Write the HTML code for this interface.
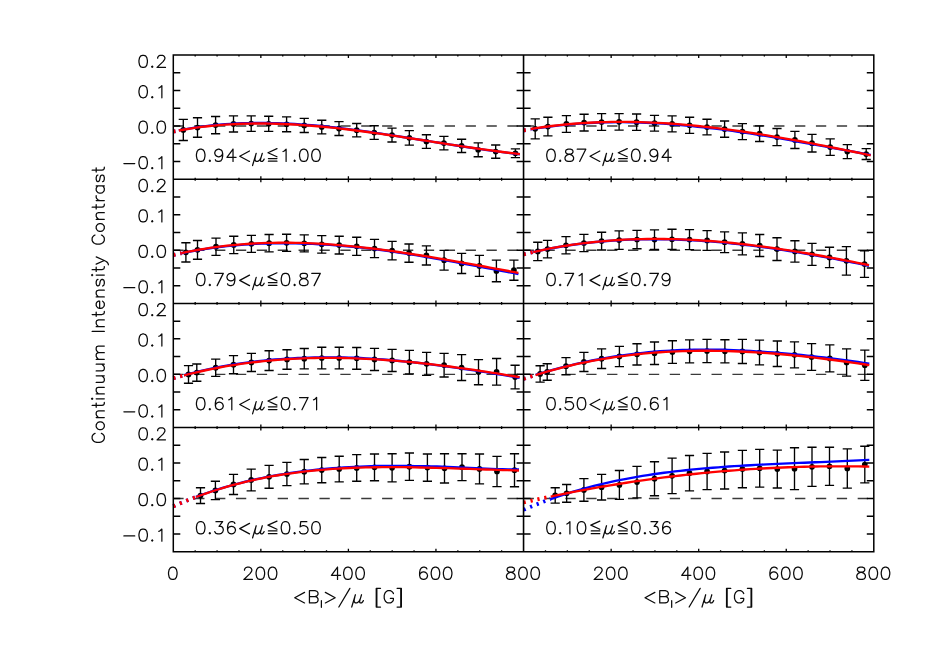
<!DOCTYPE html>
<html><head><meta charset="utf-8"><title>Continuum Intensity Contrast</title>
<style>html,body{margin:0;padding:0;background:#fff;font-family:"Liberation Sans",sans-serif;}svg{display:block}</style>
</head><body>
<svg width="926" height="662" viewBox="0 0 926 662">
<rect width="926" height="662" fill="#fff"/>
<g><path d="M173.30 126.04 H523.50" stroke="#3a3a3a" stroke-width="1.4" stroke-dasharray="10.3 10.58" fill="none"/><path d="M183.30 119.40 V140.50 M178.70 119.40 H187.90 M178.70 140.50 H187.90 M197.50 117.75 V137.20 M192.90 117.75 H202.10 M192.90 137.20 H202.10 M215.60 116.50 V133.70 M211.00 116.50 H220.20 M211.00 133.70 H220.20 M233.50 115.90 V132.00 M228.90 115.90 H238.10 M228.90 132.00 H238.10 M251.20 115.80 V131.40 M246.60 115.80 H255.80 M246.60 131.40 H255.80 M268.70 116.20 V131.40 M264.10 116.20 H273.30 M264.10 131.40 H273.30 M286.60 116.80 V131.70 M282.00 116.80 H291.20 M282.00 131.70 H291.20 M304.25 118.35 V132.50 M299.65 118.35 H308.85 M299.65 132.50 H308.85 M321.75 120.20 V133.80 M317.15 120.20 H326.35 M317.15 133.80 H326.35 M339.00 121.60 V135.50 M334.40 121.60 H343.60 M334.40 135.50 H343.60 M356.70 123.50 V136.80 M352.10 123.50 H361.30 M352.10 136.80 H361.30 M374.20 125.70 V139.30 M369.60 125.70 H378.80 M369.60 139.30 H378.80 M392.00 128.10 V142.00 M387.40 128.10 H396.60 M387.40 142.00 H396.60 M409.30 130.60 V145.10 M404.70 130.60 H413.90 M404.70 145.10 H413.90 M426.40 134.70 V148.30 M421.80 134.70 H431.00 M421.80 148.30 H431.00 M443.90 136.30 V149.80 M439.30 136.30 H448.50 M439.30 149.80 H448.50 M461.60 139.20 V152.50 M457.00 139.20 H466.20 M457.00 152.50 H466.20 M478.20 142.80 V156.70 M473.60 142.80 H482.80 M473.60 156.70 H482.80 M495.70 145.00 V158.20 M491.10 145.00 H500.30 M491.10 158.20 H500.30 M515.40 148.90 V157.60 M510.80 148.90 H520.00 M510.80 157.60 H520.00" stroke="#000" stroke-width="1.35" fill="none"/><circle cx="183.30" cy="129.95" r="2.85" fill="#000"/><circle cx="197.50" cy="127.48" r="2.85" fill="#000"/><circle cx="215.60" cy="125.10" r="2.85" fill="#000"/><circle cx="233.50" cy="123.95" r="2.85" fill="#000"/><circle cx="251.20" cy="123.60" r="2.85" fill="#000"/><circle cx="268.70" cy="123.80" r="2.85" fill="#000"/><circle cx="286.60" cy="124.25" r="2.85" fill="#000"/><circle cx="304.25" cy="125.42" r="2.85" fill="#000"/><circle cx="321.75" cy="127.00" r="2.85" fill="#000"/><circle cx="339.00" cy="128.55" r="2.85" fill="#000"/><circle cx="356.70" cy="130.15" r="2.85" fill="#000"/><circle cx="374.20" cy="132.50" r="2.85" fill="#000"/><circle cx="392.00" cy="135.05" r="2.85" fill="#000"/><circle cx="409.30" cy="137.85" r="2.85" fill="#000"/><circle cx="426.40" cy="141.50" r="2.85" fill="#000"/><circle cx="443.90" cy="143.05" r="2.85" fill="#000"/><circle cx="461.60" cy="145.85" r="2.85" fill="#000"/><circle cx="478.20" cy="149.75" r="2.85" fill="#000"/><circle cx="495.70" cy="151.60" r="2.85" fill="#000"/><circle cx="515.40" cy="153.25" r="2.85" fill="#000"/><path d="M173.30 131.59 L173.80 131.48 L174.30 131.38 L174.80 131.27 L175.30 131.17 L175.80 131.07 L176.30 130.96 L176.80 130.86 L177.30 130.76 L177.80 130.66 L178.30 130.56 L178.80 130.46" stroke="#0000ff" stroke-width="3.8" stroke-dasharray="2.2 4.87" fill="none"/><path d="M178.80 130.46 L184.58 129.36 L190.36 128.35 L196.14 127.42 L201.93 126.59 L207.71 125.83 L213.49 125.16 L219.27 124.63 L225.05 124.19 L230.83 123.81 L236.61 123.51 L242.39 123.28 L248.18 123.12 L253.96 123.03 L259.74 123.00 L265.52 123.03 L271.30 123.12 L277.08 123.27 L282.86 123.47 L288.65 123.73 L294.43 124.04 L300.21 124.39 L305.99 124.80 L311.77 125.25 L317.55 125.74 L323.33 126.27 L329.12 126.87 L334.90 127.51 L340.68 128.18 L346.46 128.89 L352.24 129.62 L358.02 130.38 L363.80 131.17 L369.58 131.98 L375.37 132.82 L381.15 133.67 L386.93 134.54 L392.71 135.43 L398.49 136.33 L404.27 137.24 L410.05 138.16 L415.84 139.09 L421.62 140.02 L427.40 140.94 L433.18 141.86 L438.96 142.77 L444.74 143.68 L450.52 144.59 L456.31 145.49 L462.09 146.38 L467.87 147.26 L473.65 148.12 L479.43 148.96 L485.21 149.79 L490.99 150.60 L496.77 151.38 L502.56 152.14 L508.34 152.88 L514.12 153.58 L519.90 154.25" stroke="#0000ff" stroke-width="2.35" fill="none"/><path d="M173.30 131.59 L173.80 131.49 L174.30 131.39 L174.80 131.29 L175.30 131.19 L175.80 131.10 L176.30 131.00 L176.80 130.90 L177.30 130.81 L177.80 130.71 L178.30 130.62 L178.80 130.53" stroke="#ff0000" stroke-width="3.8" stroke-dasharray="2.2 4.87" fill="none"/><path d="M178.80 130.53 L184.58 129.50 L190.36 128.56 L196.14 127.71 L201.93 126.94 L207.71 126.26 L213.49 125.66 L219.27 125.13 L225.05 124.69 L230.83 124.31 L236.61 124.01 L242.39 123.78 L248.18 123.62 L253.96 123.53 L259.74 123.50 L265.52 123.53 L271.30 123.62 L277.08 123.77 L282.86 123.97 L288.65 124.23 L294.43 124.54 L300.21 124.89 L305.99 125.30 L311.77 125.75 L317.55 126.24 L323.33 126.77 L329.12 127.35 L334.90 127.95 L340.68 128.60 L346.46 129.27 L352.24 129.98 L358.02 130.71 L363.80 131.47 L369.58 132.25 L375.37 133.06 L381.15 133.88 L386.93 134.72 L392.71 135.58 L398.49 136.45 L404.27 137.33 L410.05 138.22 L415.84 139.12 L421.62 140.03 L427.40 140.93 L433.18 141.84 L438.96 142.74 L444.74 143.64 L450.52 144.54 L456.31 145.42 L462.09 146.30 L467.87 147.17 L473.65 148.02 L479.43 148.85 L485.21 149.67 L490.99 150.46 L496.77 151.24 L502.56 151.98 L508.34 152.71 L514.12 153.40 L519.90 154.06" stroke="#ff0000" stroke-width="2.35" fill="none"/></g>
<g><path d="M523.60 126.04 H873.80" stroke="#3a3a3a" stroke-width="1.4" stroke-dasharray="10.3 10.58" fill="none"/><path d="M535.20 118.80 V138.90 M530.60 118.80 H539.80 M530.60 138.90 H539.80 M547.90 117.20 V135.90 M543.30 117.20 H552.50 M543.30 135.90 H552.50 M566.40 115.55 V132.40 M561.80 115.55 H571.00 M561.80 132.40 H571.00 M584.10 114.25 V131.00 M579.50 114.25 H588.70 M579.50 131.00 H588.70 M601.60 113.60 V130.40 M597.00 113.60 H606.20 M597.00 130.40 H606.20 M619.10 113.60 V130.10 M614.50 113.60 H623.70 M614.50 130.10 H623.70 M636.60 114.00 V130.40 M632.00 114.00 H641.20 M632.00 130.40 H641.20 M654.50 115.30 V131.10 M649.90 115.30 H659.10 M649.90 131.10 H659.10 M672.10 115.80 V131.80 M667.50 115.80 H676.70 M667.50 131.80 H676.70 M689.60 117.20 V133.30 M685.00 117.20 H694.20 M685.00 133.30 H694.20 M707.00 119.20 V134.90 M702.40 119.20 H711.60 M702.40 134.90 H711.60 M724.60 121.00 V137.20 M720.00 121.00 H729.20 M720.00 137.20 H729.20 M742.40 123.60 V139.60 M737.80 123.60 H747.00 M737.80 139.60 H747.00 M759.60 125.80 V141.50 M755.00 125.80 H764.20 M755.00 141.50 H764.20 M777.00 128.50 V145.55 M772.40 128.50 H781.60 M772.40 145.55 H781.60 M794.90 131.40 V148.50 M790.30 131.40 H799.50 M790.30 148.50 H799.50 M812.00 134.40 V152.00 M807.40 134.40 H816.60 M807.40 152.00 H816.60 M830.20 138.80 V155.30 M825.60 138.80 H834.80 M825.60 155.30 H834.80 M847.30 144.60 V158.60 M842.70 144.60 H851.90 M842.70 158.60 H851.90 M866.20 148.60 V159.50 M861.60 148.60 H870.80 M861.60 159.50 H870.80" stroke="#000" stroke-width="1.35" fill="none"/><circle cx="535.20" cy="128.85" r="2.85" fill="#000"/><circle cx="547.90" cy="126.55" r="2.85" fill="#000"/><circle cx="566.40" cy="123.97" r="2.85" fill="#000"/><circle cx="584.10" cy="122.62" r="2.85" fill="#000"/><circle cx="601.60" cy="122.00" r="2.85" fill="#000"/><circle cx="619.10" cy="121.85" r="2.85" fill="#000"/><circle cx="636.60" cy="122.20" r="2.85" fill="#000"/><circle cx="654.50" cy="123.20" r="2.85" fill="#000"/><circle cx="672.10" cy="123.80" r="2.85" fill="#000"/><circle cx="689.60" cy="125.25" r="2.85" fill="#000"/><circle cx="707.00" cy="127.05" r="2.85" fill="#000"/><circle cx="724.60" cy="129.10" r="2.85" fill="#000"/><circle cx="742.40" cy="131.60" r="2.85" fill="#000"/><circle cx="759.60" cy="133.65" r="2.85" fill="#000"/><circle cx="777.00" cy="137.03" r="2.85" fill="#000"/><circle cx="794.90" cy="139.95" r="2.85" fill="#000"/><circle cx="812.00" cy="143.20" r="2.85" fill="#000"/><circle cx="830.20" cy="147.05" r="2.85" fill="#000"/><circle cx="847.30" cy="151.60" r="2.85" fill="#000"/><circle cx="866.20" cy="154.05" r="2.85" fill="#000"/><path d="M523.60 130.56 L524.25 130.44 L524.89 130.33 L525.54 130.21 L526.18 130.10 L526.83 129.99 L527.47 129.87 L528.12 129.76 L528.76 129.65 L529.41 129.55 L530.05 129.44 L530.70 129.33" stroke="#0000ff" stroke-width="3.8" stroke-dasharray="2.2 4.87" fill="none"/><path d="M530.70 129.33 L536.46 128.41 L542.23 127.56 L547.99 126.77 L553.75 126.05 L559.51 125.40 L565.28 124.81 L571.04 124.28 L576.80 123.82 L582.56 123.41 L588.33 123.06 L594.09 122.77 L599.85 122.54 L605.62 122.37 L611.38 122.25 L617.14 122.18 L622.90 122.17 L628.67 122.24 L634.43 122.36 L640.19 122.53 L645.95 122.75 L651.72 123.02 L657.48 123.34 L663.24 123.70 L669.01 124.10 L674.77 124.54 L680.53 125.03 L686.29 125.56 L692.06 126.13 L697.82 126.73 L703.58 127.37 L709.34 128.02 L715.11 128.69 L720.87 129.41 L726.63 130.15 L732.39 130.93 L738.16 131.73 L743.92 132.57 L749.68 133.43 L755.45 134.32 L761.21 135.24 L766.97 136.18 L772.73 137.15 L778.50 138.14 L784.26 139.15 L790.02 140.18 L795.78 141.23 L801.55 142.30 L807.31 143.33 L813.07 144.35 L818.84 145.38 L824.60 146.42 L830.36 147.48 L836.12 148.55 L841.89 149.63 L847.65 150.67 L853.41 151.70 L859.17 152.74 L864.94 153.79 L870.70 154.84" stroke="#0000ff" stroke-width="2.35" fill="none"/><path d="M523.60 130.26 L524.25 130.14 L524.89 130.03 L525.54 129.91 L526.18 129.80 L526.83 129.69 L527.47 129.57 L528.12 129.46 L528.76 129.35 L529.41 129.25 L530.05 129.14 L530.70 129.03" stroke="#ff0000" stroke-width="3.8" stroke-dasharray="2.2 4.87" fill="none"/><path d="M530.70 129.03 L536.46 128.11 L542.23 127.26 L547.99 126.47 L553.75 125.75 L559.51 125.10 L565.28 124.51 L571.04 123.98 L576.80 123.52 L582.56 123.11 L588.33 122.76 L594.09 122.47 L599.85 122.24 L605.62 122.07 L611.38 121.95 L617.14 121.88 L622.90 121.87 L628.67 121.90 L634.43 121.99 L640.19 122.13 L645.95 122.31 L651.72 122.55 L657.48 122.82 L663.24 123.15 L669.01 123.51 L674.77 123.92 L680.53 124.38 L686.29 124.87 L692.06 125.40 L697.82 125.97 L703.58 126.57 L709.34 127.22 L715.11 127.89 L720.87 128.61 L726.63 129.35 L732.39 130.13 L738.16 130.93 L743.92 131.77 L749.68 132.63 L755.45 133.52 L761.21 134.44 L766.97 135.38 L772.73 136.35 L778.50 137.34 L784.26 138.35 L790.02 139.38 L795.78 140.43 L801.55 141.50 L807.31 142.59 L813.07 143.69 L818.84 144.81 L824.60 145.94 L830.36 147.08 L836.12 148.24 L841.89 149.41 L847.65 150.58 L853.41 151.77 L859.17 152.96 L864.94 154.16 L870.70 155.36" stroke="#ff0000" stroke-width="2.35" fill="none"/></g>
<g><path d="M173.30 250.19 H523.50" stroke="#3a3a3a" stroke-width="1.4" stroke-dasharray="10.3 10.58" fill="none"/><path d="M185.90 242.70 V262.00 M181.30 242.70 H190.50 M181.30 262.00 H190.50 M197.50 240.50 V259.20 M192.90 240.50 H202.10 M192.90 259.20 H202.10 M216.00 238.10 V255.30 M211.40 238.10 H220.60 M211.40 255.30 H220.60 M233.75 236.20 V253.60 M229.15 236.20 H238.35 M229.15 253.60 H238.35 M251.40 235.30 V252.40 M246.80 235.30 H256.00 M246.80 252.40 H256.00 M269.10 234.50 V251.80 M264.50 234.50 H273.70 M264.50 251.80 H273.70 M286.60 234.25 V251.40 M282.00 234.25 H291.20 M282.00 251.40 H291.20 M304.25 234.90 V251.80 M299.65 234.90 H308.85 M299.65 251.80 H308.85 M321.75 235.55 V253.10 M317.15 235.55 H326.35 M317.15 253.10 H326.35 M339.20 236.20 V254.00 M334.60 236.20 H343.80 M334.60 254.00 H343.80 M356.70 237.20 V255.30 M352.10 237.20 H361.30 M352.10 255.30 H361.30 M374.50 239.40 V257.60 M369.90 239.40 H379.10 M369.90 257.60 H379.10 M392.10 241.40 V259.80 M387.50 241.40 H396.70 M387.50 259.80 H396.70 M409.00 244.00 V262.20 M404.40 244.00 H413.60 M404.40 262.20 H413.60 M426.40 245.90 V265.00 M421.80 245.90 H431.00 M421.80 265.00 H431.00 M444.10 250.30 V270.10 M439.50 250.30 H448.70 M439.50 270.10 H448.70 M461.60 253.30 V273.45 M457.00 253.30 H466.20 M457.00 273.45 H466.20 M479.40 255.40 V276.40 M474.80 255.40 H484.00 M474.80 276.40 H484.00 M496.40 260.10 V281.70 M491.80 260.10 H501.00 M491.80 281.70 H501.00 M513.90 260.10 V280.20 M509.30 260.10 H518.50 M509.30 280.20 H518.50" stroke="#000" stroke-width="1.35" fill="none"/><circle cx="185.90" cy="252.35" r="2.85" fill="#000"/><circle cx="197.50" cy="249.85" r="2.85" fill="#000"/><circle cx="216.00" cy="246.70" r="2.85" fill="#000"/><circle cx="233.75" cy="244.90" r="2.85" fill="#000"/><circle cx="251.40" cy="243.85" r="2.85" fill="#000"/><circle cx="269.10" cy="243.15" r="2.85" fill="#000"/><circle cx="286.60" cy="242.83" r="2.85" fill="#000"/><circle cx="304.25" cy="243.35" r="2.85" fill="#000"/><circle cx="321.75" cy="244.33" r="2.85" fill="#000"/><circle cx="339.20" cy="245.10" r="2.85" fill="#000"/><circle cx="356.70" cy="246.25" r="2.85" fill="#000"/><circle cx="374.50" cy="248.50" r="2.85" fill="#000"/><circle cx="392.10" cy="250.60" r="2.85" fill="#000"/><circle cx="409.00" cy="253.10" r="2.85" fill="#000"/><circle cx="426.40" cy="255.45" r="2.85" fill="#000"/><circle cx="444.10" cy="260.20" r="2.85" fill="#000"/><circle cx="461.60" cy="263.38" r="2.85" fill="#000"/><circle cx="479.40" cy="265.90" r="2.85" fill="#000"/><circle cx="496.40" cy="270.90" r="2.85" fill="#000"/><circle cx="513.90" cy="270.15" r="2.85" fill="#000"/><path d="M173.30 255.01 L174.04 254.84 L174.77 254.68 L175.51 254.51 L176.25 254.34 L176.98 254.18 L177.72 254.02 L178.45 253.86 L179.19 253.70 L179.93 253.54 L180.66 253.38 L181.40 253.23" stroke="#0000ff" stroke-width="3.8" stroke-dasharray="2.2 4.87" fill="none"/><path d="M181.40 253.23 L187.11 252.07 L192.82 250.99 L198.54 249.99 L204.25 249.07 L209.96 248.23 L215.67 247.46 L221.38 246.77 L227.09 246.15 L232.81 245.60 L238.52 245.09 L244.23 244.64 L249.94 244.25 L255.65 243.94 L261.37 243.68 L267.08 243.49 L272.79 243.36 L278.50 243.28 L284.21 243.27 L289.93 243.31 L295.64 243.40 L301.35 243.55 L307.06 243.73 L312.77 243.95 L318.48 244.21 L324.20 244.53 L329.91 244.89 L335.62 245.29 L341.33 245.73 L347.04 246.22 L352.76 246.75 L358.47 247.31 L364.18 247.91 L369.89 248.55 L375.60 249.25 L381.32 250.01 L387.03 250.81 L392.74 251.63 L398.45 252.48 L404.16 253.36 L409.87 254.26 L415.59 255.19 L421.30 256.14 L427.01 257.11 L432.72 258.09 L438.43 259.09 L444.15 260.11 L449.86 261.13 L455.57 262.17 L461.28 263.22 L466.99 264.29 L472.71 265.36 L478.42 266.43 L484.13 267.51 L489.84 268.60 L495.55 269.68 L501.26 270.77 L506.98 271.86 L512.69 272.94 L518.40 274.03" stroke="#0000ff" stroke-width="2.35" fill="none"/><path d="M173.30 255.01 L174.04 254.84 L174.77 254.66 L175.51 254.49 L176.25 254.32 L176.98 254.15 L177.72 253.98 L178.45 253.81 L179.19 253.65 L179.93 253.48 L180.66 253.32 L181.40 253.16" stroke="#ff0000" stroke-width="3.8" stroke-dasharray="2.2 4.87" fill="none"/><path d="M181.40 253.16 L187.11 251.95 L192.82 250.83 L198.54 249.78 L204.25 248.81 L209.96 247.93 L215.67 247.11 L221.38 246.37 L227.09 245.70 L232.81 245.11 L238.52 244.58 L244.23 244.12 L249.94 243.73 L255.65 243.40 L261.37 243.14 L267.08 242.94 L272.79 242.80 L278.50 242.72 L284.21 242.69 L289.93 242.73 L295.64 242.81 L301.35 242.95 L307.06 243.15 L312.77 243.39 L318.48 243.68 L324.20 244.02 L329.91 244.40 L335.62 244.83 L341.33 245.30 L347.04 245.81 L352.76 246.36 L358.47 246.95 L364.18 247.57 L369.89 248.24 L375.60 248.93 L381.32 249.66 L387.03 250.41 L392.74 251.20 L398.45 252.02 L404.16 252.86 L409.87 253.72 L415.59 254.61 L421.30 255.52 L427.01 256.45 L432.72 257.40 L438.43 258.36 L444.15 259.35 L449.86 260.34 L455.57 261.35 L461.28 262.37 L466.99 263.40 L472.71 264.44 L478.42 265.48 L484.13 266.53 L489.84 267.58 L495.55 268.64 L501.26 269.69 L506.98 270.75 L512.69 271.80 L518.40 272.85" stroke="#ff0000" stroke-width="2.35" fill="none"/></g>
<g><path d="M523.60 250.19 H873.80" stroke="#3a3a3a" stroke-width="1.4" stroke-dasharray="10.3 10.58" fill="none"/><path d="M537.75 242.20 V260.65 M533.15 242.20 H542.35 M533.15 260.65 H542.35 M547.50 240.30 V257.80 M542.90 240.30 H552.10 M542.90 257.80 H552.10 M566.00 236.60 V253.90 M561.40 236.60 H570.60 M561.40 253.90 H570.60 M583.90 234.40 V251.60 M579.30 234.40 H588.50 M579.30 251.60 H588.50 M601.60 232.20 V250.00 M597.00 232.20 H606.20 M597.00 250.00 H606.20 M619.10 230.80 V249.30 M614.50 230.80 H623.70 M614.50 249.30 H623.70 M637.00 230.30 V248.70 M632.40 230.30 H641.60 M632.40 248.70 H641.60 M654.50 229.90 V249.30 M649.90 229.90 H659.10 M649.90 249.30 H659.10 M672.00 229.25 V249.40 M667.40 229.25 H676.60 M667.40 249.40 H676.60 M689.50 229.60 V249.60 M684.90 229.60 H694.10 M684.90 249.60 H694.10 M707.10 230.55 V250.30 M702.50 230.55 H711.70 M702.50 250.30 H711.70 M724.60 231.85 V252.60 M720.00 231.85 H729.20 M720.00 252.60 H729.20 M742.40 232.90 V254.80 M737.80 232.90 H747.00 M737.80 254.80 H747.00 M759.70 234.45 V256.55 M755.10 234.45 H764.30 M755.10 256.55 H764.30 M777.00 237.75 V260.50 M772.40 237.75 H781.60 M772.40 260.50 H781.60 M794.90 240.70 V262.15 M790.30 240.70 H799.50 M790.30 262.15 H799.50 M812.00 243.30 V265.40 M807.40 243.30 H816.60 M807.40 265.40 H816.60 M829.50 247.20 V267.60 M824.90 247.20 H834.10 M824.90 267.60 H834.10 M846.40 246.60 V275.10 M841.80 246.60 H851.00 M841.80 275.10 H851.00 M864.50 250.70 V277.30 M859.90 250.70 H869.10 M859.90 277.30 H869.10" stroke="#000" stroke-width="1.35" fill="none"/><circle cx="537.75" cy="251.43" r="2.85" fill="#000"/><circle cx="547.50" cy="249.05" r="2.85" fill="#000"/><circle cx="566.00" cy="245.25" r="2.85" fill="#000"/><circle cx="583.90" cy="243.00" r="2.85" fill="#000"/><circle cx="601.60" cy="241.10" r="2.85" fill="#000"/><circle cx="619.10" cy="240.05" r="2.85" fill="#000"/><circle cx="637.00" cy="239.50" r="2.85" fill="#000"/><circle cx="654.50" cy="239.60" r="2.85" fill="#000"/><circle cx="672.00" cy="239.33" r="2.85" fill="#000"/><circle cx="689.50" cy="239.60" r="2.85" fill="#000"/><circle cx="707.10" cy="240.43" r="2.85" fill="#000"/><circle cx="724.60" cy="242.22" r="2.85" fill="#000"/><circle cx="742.40" cy="243.85" r="2.85" fill="#000"/><circle cx="759.70" cy="245.50" r="2.85" fill="#000"/><circle cx="777.00" cy="249.12" r="2.85" fill="#000"/><circle cx="794.90" cy="251.43" r="2.85" fill="#000"/><circle cx="812.00" cy="254.35" r="2.85" fill="#000"/><circle cx="829.50" cy="257.40" r="2.85" fill="#000"/><circle cx="846.40" cy="260.85" r="2.85" fill="#000"/><circle cx="864.50" cy="264.00" r="2.85" fill="#000"/><path d="M523.60 254.34 L524.48 254.12 L525.35 253.91 L526.23 253.70 L527.11 253.48 L527.99 253.28 L528.86 253.07 L529.74 252.86 L530.62 252.66 L531.50 252.46 L532.37 252.26 L533.25 252.06" stroke="#0000ff" stroke-width="3.8" stroke-dasharray="2.2 4.87" fill="none"/><path d="M533.25 252.06 L538.94 250.81 L544.63 249.63 L550.32 248.52 L556.01 247.48 L561.70 246.51 L567.39 245.60 L573.08 244.75 L578.78 243.97 L584.47 243.25 L590.16 242.60 L595.85 242.00 L601.54 241.47 L607.23 240.99 L612.92 240.57 L618.61 240.21 L624.30 239.90 L629.99 239.66 L635.68 239.47 L641.37 239.33 L647.06 239.24 L652.75 239.21 L658.44 239.22 L664.14 239.29 L669.83 239.40 L675.52 239.56 L681.21 239.76 L686.90 240.01 L692.59 240.31 L698.28 240.65 L703.97 241.03 L709.66 241.45 L715.35 241.91 L721.04 242.41 L726.73 242.95 L732.42 243.51 L738.11 244.11 L743.81 244.75 L749.50 245.42 L755.19 246.12 L760.88 246.86 L766.57 247.63 L772.26 248.43 L777.95 249.26 L783.64 250.11 L789.33 251.00 L795.02 251.91 L800.71 252.85 L806.40 253.81 L812.09 254.80 L817.78 255.81 L823.47 256.84 L829.17 257.89 L834.86 258.96 L840.55 260.05 L846.24 261.16 L851.93 262.29 L857.62 263.43 L863.31 264.59 L869.00 265.76" stroke="#0000ff" stroke-width="2.35" fill="none"/><path d="M523.60 254.34 L524.48 254.12 L525.35 253.90 L526.23 253.69 L527.11 253.48 L527.99 253.27 L528.86 253.06 L529.74 252.85 L530.62 252.65 L531.50 252.44 L532.37 252.24 L533.25 252.04" stroke="#ff0000" stroke-width="3.8" stroke-dasharray="2.2 4.87" fill="none"/><path d="M533.25 252.04 L538.94 250.78 L544.63 249.59 L550.32 248.47 L556.01 247.42 L561.70 246.43 L567.39 245.51 L573.08 244.65 L578.78 243.86 L584.47 243.13 L590.16 242.46 L595.85 241.86 L601.54 241.31 L607.23 240.82 L612.92 240.39 L618.61 240.02 L624.30 239.70 L629.99 239.44 L635.68 239.23 L641.37 239.07 L647.06 238.97 L652.75 238.92 L658.44 238.92 L664.14 238.96 L669.83 239.06 L675.52 239.20 L681.21 239.39 L686.90 239.62 L692.59 239.90 L698.28 240.22 L703.97 240.59 L709.66 240.99 L715.35 241.44 L721.04 241.92 L726.73 242.44 L732.42 243.01 L738.11 243.60 L743.81 244.23 L749.50 244.90 L755.19 245.60 L760.88 246.34 L766.57 247.10 L772.26 247.90 L777.95 248.72 L783.64 249.57 L789.33 250.46 L795.02 251.36 L800.71 252.30 L806.40 253.26 L812.09 254.24 L817.78 255.25 L823.47 256.27 L829.17 257.32 L834.86 258.39 L840.55 259.48 L846.24 260.58 L851.93 261.70 L857.62 262.84 L863.31 263.99 L869.00 265.16" stroke="#ff0000" stroke-width="2.35" fill="none"/></g>
<g><path d="M173.30 374.34 H523.50" stroke="#3a3a3a" stroke-width="1.4" stroke-dasharray="10.3 10.58" fill="none"/><path d="M188.50 365.60 V383.20 M183.90 365.60 H193.10 M183.90 383.20 H193.10 M196.80 363.95 V381.20 M192.20 363.95 H201.40 M192.20 381.20 H201.40 M215.70 359.15 V376.30 M211.10 359.15 H220.30 M211.10 376.30 H220.30 M233.50 355.65 V373.70 M228.90 355.65 H238.10 M228.90 373.70 H238.10 M251.40 353.30 V371.50 M246.80 353.30 H256.00 M246.80 371.50 H256.00 M269.10 350.70 V370.50 M264.50 350.70 H273.70 M264.50 370.50 H273.70 M287.00 349.70 V369.20 M282.40 349.70 H291.60 M282.40 369.20 H291.60 M304.25 348.50 V368.90 M299.65 348.50 H308.85 M299.65 368.90 H308.85 M321.75 347.20 V368.80 M317.15 347.20 H326.35 M317.15 368.80 H326.35 M339.20 347.20 V368.80 M334.60 347.20 H343.80 M334.60 368.80 H343.80 M356.70 347.50 V369.20 M352.10 347.50 H361.30 M352.10 369.20 H361.30 M374.50 348.40 V370.50 M369.90 348.40 H379.10 M369.90 370.50 H379.10 M392.10 349.40 V371.50 M387.50 349.40 H396.70 M387.50 371.50 H396.70 M409.40 350.40 V373.90 M404.80 350.40 H414.00 M404.80 373.90 H414.00 M426.60 352.30 V375.40 M422.00 352.30 H431.20 M422.00 375.40 H431.20 M444.10 353.30 V376.95 M439.50 353.30 H448.70 M439.50 376.95 H448.70 M461.60 354.60 V380.45 M457.00 354.60 H466.20 M457.00 380.45 H466.20 M478.50 359.55 V384.70 M473.90 359.55 H483.10 M473.90 384.70 H483.10 M496.60 358.50 V385.10 M492.00 358.50 H501.20 M492.00 385.10 H501.20 M515.10 365.25 V388.90 M510.50 365.25 H519.70 M510.50 388.90 H519.70" stroke="#000" stroke-width="1.35" fill="none"/><circle cx="188.50" cy="374.40" r="2.85" fill="#000"/><circle cx="196.80" cy="372.57" r="2.85" fill="#000"/><circle cx="215.70" cy="367.72" r="2.85" fill="#000"/><circle cx="233.50" cy="364.67" r="2.85" fill="#000"/><circle cx="251.40" cy="362.40" r="2.85" fill="#000"/><circle cx="269.10" cy="360.60" r="2.85" fill="#000"/><circle cx="287.00" cy="359.45" r="2.85" fill="#000"/><circle cx="304.25" cy="358.70" r="2.85" fill="#000"/><circle cx="321.75" cy="358.00" r="2.85" fill="#000"/><circle cx="339.20" cy="358.00" r="2.85" fill="#000"/><circle cx="356.70" cy="358.35" r="2.85" fill="#000"/><circle cx="374.50" cy="359.45" r="2.85" fill="#000"/><circle cx="392.10" cy="360.45" r="2.85" fill="#000"/><circle cx="409.40" cy="362.15" r="2.85" fill="#000"/><circle cx="426.60" cy="363.85" r="2.85" fill="#000"/><circle cx="444.10" cy="365.12" r="2.85" fill="#000"/><circle cx="461.60" cy="367.52" r="2.85" fill="#000"/><circle cx="478.50" cy="372.12" r="2.85" fill="#000"/><circle cx="496.60" cy="371.80" r="2.85" fill="#000"/><circle cx="515.10" cy="377.07" r="2.85" fill="#000"/><path d="M173.30 378.28 L174.27 378.00 L175.25 377.71 L176.22 377.43 L177.19 377.15 L178.16 376.87 L179.14 376.59 L180.11 376.32 L181.08 376.04 L182.05 375.77 L183.03 375.51 L184.00 375.24" stroke="#0000ff" stroke-width="3.8" stroke-dasharray="2.2 4.87" fill="none"/><path d="M184.00 375.24 L189.69 373.72 L195.38 372.28 L201.06 370.90 L206.75 369.59 L212.44 368.35 L218.13 367.23 L223.82 366.18 L229.51 365.20 L235.19 364.28 L240.88 363.42 L246.57 362.63 L252.26 361.89 L257.95 361.22 L263.63 360.60 L269.32 360.03 L275.01 359.53 L280.70 359.08 L286.39 358.68 L292.07 358.33 L297.76 358.04 L303.45 357.80 L309.14 357.61 L314.83 357.46 L320.52 357.37 L326.20 357.32 L331.89 357.32 L337.58 357.36 L343.27 357.45 L348.96 357.58 L354.64 357.76 L360.33 358.04 L366.02 358.35 L371.71 358.70 L377.40 359.09 L383.08 359.52 L388.77 359.98 L394.46 360.48 L400.15 361.01 L405.84 361.58 L411.53 362.17 L417.21 362.79 L422.90 363.44 L428.59 364.12 L434.28 364.82 L439.97 365.56 L445.65 366.31 L451.34 367.10 L457.03 367.90 L462.72 368.73 L468.41 369.59 L474.09 370.45 L479.78 371.31 L485.47 372.19 L491.16 373.08 L496.85 373.99 L502.54 374.92 L508.22 375.86 L513.91 376.82 L519.60 377.78" stroke="#0000ff" stroke-width="2.35" fill="none"/><path d="M173.30 378.28 L174.27 378.01 L175.25 377.74 L176.22 377.47 L177.19 377.20 L178.16 376.93 L179.14 376.66 L180.11 376.40 L181.08 376.14 L182.05 375.88 L183.03 375.63 L184.00 375.37" stroke="#ff0000" stroke-width="3.8" stroke-dasharray="2.2 4.87" fill="none"/><path d="M184.00 375.37 L189.69 373.93 L195.38 372.55 L201.06 371.25 L206.75 370.01 L212.44 368.84 L218.13 367.73 L223.82 366.69 L229.51 365.71 L235.19 364.80 L240.88 363.94 L246.57 363.15 L252.26 362.42 L257.95 361.75 L263.63 361.13 L269.32 360.57 L275.01 360.07 L280.70 359.62 L286.39 359.23 L292.07 358.89 L297.76 358.60 L303.45 358.36 L309.14 358.18 L314.83 358.04 L320.52 357.95 L326.20 357.90 L331.89 357.90 L337.58 357.95 L343.27 358.04 L348.96 358.17 L354.64 358.35 L360.33 358.57 L366.02 358.82 L371.71 359.12 L377.40 359.45 L383.08 359.82 L388.77 360.23 L394.46 360.67 L400.15 361.14 L405.84 361.65 L411.53 362.19 L417.21 362.76 L422.90 363.36 L428.59 363.99 L434.28 364.65 L439.97 365.33 L445.65 366.04 L451.34 366.78 L457.03 367.54 L462.72 368.32 L468.41 369.13 L474.09 369.95 L479.78 370.80 L485.47 371.66 L491.16 372.54 L496.85 373.44 L502.54 374.36 L508.22 375.29 L513.91 376.23 L519.60 377.19" stroke="#ff0000" stroke-width="2.35" fill="none"/></g>
<g><path d="M523.60 374.34 H873.80" stroke="#3a3a3a" stroke-width="1.4" stroke-dasharray="10.3 10.58" fill="none"/><path d="M540.10 365.75 V382.10 M535.50 365.75 H544.70 M535.50 382.10 H544.70 M547.20 363.70 V380.20 M542.60 363.70 H551.80 M542.60 380.20 H551.80 M566.00 357.60 V374.70 M561.40 357.60 H570.60 M561.40 374.70 H570.60 M583.90 352.40 V371.50 M579.30 352.40 H588.50 M579.30 371.50 H588.50 M601.60 348.80 V368.50 M597.00 348.80 H606.20 M597.00 368.50 H606.20 M619.40 346.30 V366.60 M614.80 346.30 H624.00 M614.80 366.60 H624.00 M637.00 343.70 V365.00 M632.40 343.70 H641.60 M632.40 365.00 H641.60 M654.50 342.00 V364.50 M649.90 342.00 H659.10 M649.90 364.50 H659.10 M672.40 340.70 V363.30 M667.80 340.70 H677.00 M667.80 363.30 H677.00 M689.60 339.80 V362.90 M685.00 339.80 H694.20 M685.00 362.90 H694.20 M707.00 339.40 V362.65 M702.40 339.40 H711.60 M702.40 362.65 H711.60 M724.90 339.70 V362.90 M720.30 339.70 H729.50 M720.30 362.90 H729.50 M742.40 339.40 V363.50 M737.80 339.40 H747.00 M737.80 363.50 H747.00 M759.50 340.10 V364.90 M754.90 340.10 H764.10 M754.90 364.90 H764.10 M777.30 341.00 V366.50 M772.70 341.00 H781.90 M772.70 366.50 H781.90 M794.50 341.80 V367.80 M789.90 341.80 H799.10 M789.90 367.80 H799.10 M811.60 343.60 V370.40 M807.00 343.60 H816.20 M807.00 370.40 H816.20 M829.80 344.90 V371.90 M825.20 344.90 H834.40 M825.20 371.90 H834.40 M846.60 348.80 V376.10 M842.00 348.80 H851.20 M842.00 376.10 H851.20 M864.80 350.10 V380.30 M860.20 350.10 H869.40 M860.20 380.30 H869.40" stroke="#000" stroke-width="1.35" fill="none"/><circle cx="540.10" cy="373.92" r="2.85" fill="#000"/><circle cx="547.20" cy="371.95" r="2.85" fill="#000"/><circle cx="566.00" cy="366.15" r="2.85" fill="#000"/><circle cx="583.90" cy="361.95" r="2.85" fill="#000"/><circle cx="601.60" cy="358.65" r="2.85" fill="#000"/><circle cx="619.40" cy="356.45" r="2.85" fill="#000"/><circle cx="637.00" cy="354.35" r="2.85" fill="#000"/><circle cx="654.50" cy="353.25" r="2.85" fill="#000"/><circle cx="672.40" cy="352.00" r="2.85" fill="#000"/><circle cx="689.60" cy="351.35" r="2.85" fill="#000"/><circle cx="707.00" cy="351.02" r="2.85" fill="#000"/><circle cx="724.90" cy="351.30" r="2.85" fill="#000"/><circle cx="742.40" cy="351.45" r="2.85" fill="#000"/><circle cx="759.50" cy="352.50" r="2.85" fill="#000"/><circle cx="777.30" cy="353.75" r="2.85" fill="#000"/><circle cx="794.50" cy="354.80" r="2.85" fill="#000"/><circle cx="811.60" cy="357.00" r="2.85" fill="#000"/><circle cx="829.80" cy="358.40" r="2.85" fill="#000"/><circle cx="846.60" cy="362.45" r="2.85" fill="#000"/><circle cx="864.80" cy="365.20" r="2.85" fill="#000"/><path d="M523.60 378.90 L524.69 378.53 L525.78 378.16 L526.87 377.79 L527.96 377.43 L529.05 377.06 L530.15 376.71 L531.24 376.35 L532.33 376.00 L533.42 375.65 L534.51 375.30 L535.60 374.95" stroke="#0000ff" stroke-width="3.8" stroke-dasharray="2.2 4.87" fill="none"/><path d="M535.60 374.95 L541.26 373.20 L546.91 371.53 L552.57 369.92 L558.22 368.39 L563.88 366.92 L569.54 365.52 L575.19 364.17 L580.85 362.88 L586.50 361.66 L592.16 360.50 L597.82 359.41 L603.47 358.37 L609.13 357.40 L614.78 356.49 L620.44 355.64 L626.09 354.84 L631.75 354.11 L637.41 353.43 L643.06 352.80 L648.72 352.23 L654.37 351.72 L660.03 351.28 L665.69 350.90 L671.34 350.56 L677.00 350.27 L682.65 350.04 L688.31 349.85 L693.97 349.70 L699.62 349.61 L705.28 349.55 L710.93 349.57 L716.59 349.65 L722.25 349.77 L727.90 349.94 L733.56 350.15 L739.21 350.39 L744.87 350.67 L750.53 350.99 L756.18 351.35 L761.84 351.72 L767.49 352.09 L773.15 352.49 L778.81 352.92 L784.46 353.39 L790.12 353.88 L795.77 354.41 L801.43 354.96 L807.08 355.55 L812.74 356.16 L818.40 356.80 L824.05 357.48 L829.71 358.17 L835.36 358.89 L841.02 359.63 L846.68 360.40 L852.33 361.18 L857.99 361.98 L863.64 362.80 L869.30 363.63" stroke="#0000ff" stroke-width="2.35" fill="none"/><path d="M523.60 378.90 L524.69 378.53 L525.78 378.17 L526.87 377.81 L527.96 377.45 L529.05 377.09 L530.15 376.74 L531.24 376.39 L532.33 376.04 L533.42 375.69 L534.51 375.35 L535.60 375.01" stroke="#ff0000" stroke-width="3.8" stroke-dasharray="2.2 4.87" fill="none"/><path d="M535.60 375.01 L541.26 373.29 L546.91 371.65 L552.57 370.07 L558.22 368.56 L563.88 367.13 L569.54 365.76 L575.19 364.45 L580.85 363.21 L586.50 362.04 L592.16 360.93 L597.82 359.89 L603.47 358.91 L609.13 357.99 L614.78 357.12 L620.44 356.32 L626.09 355.58 L631.75 354.89 L637.41 354.26 L643.06 353.68 L648.72 353.16 L654.37 352.70 L660.03 352.28 L665.69 351.92 L671.34 351.61 L677.00 351.34 L682.65 351.13 L688.31 350.96 L693.97 350.84 L699.62 350.77 L705.28 350.74 L710.93 350.76 L716.59 350.81 L722.25 350.91 L727.90 351.05 L733.56 351.24 L739.21 351.46 L744.87 351.71 L750.53 352.01 L756.18 352.34 L761.84 352.71 L767.49 353.11 L773.15 353.54 L778.81 354.01 L784.46 354.51 L790.12 355.04 L795.77 355.59 L801.43 356.18 L807.08 356.79 L812.74 357.43 L818.40 358.10 L824.05 358.79 L829.71 359.51 L835.36 360.25 L841.02 361.00 L846.68 361.78 L852.33 362.59 L857.99 363.40 L863.64 364.24 L869.30 365.10" stroke="#ff0000" stroke-width="2.35" fill="none"/></g>
<g><path d="M173.30 498.49 H523.50" stroke="#3a3a3a" stroke-width="1.4" stroke-dasharray="10.3 10.58" fill="none"/><path d="M200.50 487.70 V503.50 M195.90 487.70 H205.10 M195.90 503.50 H205.10 M215.40 481.20 V499.65 M210.80 481.20 H220.00 M210.80 499.65 H220.00 M233.50 474.30 V494.50 M228.90 474.30 H238.10 M228.90 494.50 H238.10 M251.20 469.15 V490.80 M246.60 469.15 H255.80 M246.60 490.80 H255.80 M269.10 465.30 V488.25 M264.50 465.30 H273.70 M264.50 488.25 H273.70 M286.90 462.40 V485.65 M282.30 462.40 H291.50 M282.30 485.65 H291.50 M304.25 459.50 V483.80 M299.65 459.50 H308.85 M299.65 483.80 H308.85 M321.75 457.50 V482.70 M317.15 457.50 H326.35 M317.15 482.70 H326.35 M339.20 456.20 V481.80 M334.60 456.20 H343.80 M334.60 481.80 H343.80 M356.70 454.60 V481.20 M352.10 454.60 H361.30 M352.10 481.20 H361.30 M374.50 454.00 V480.70 M369.90 454.00 H379.10 M369.90 480.70 H379.10 M392.10 453.70 V481.90 M387.50 453.70 H396.70 M387.50 481.90 H396.70 M409.40 453.00 V480.40 M404.80 453.00 H414.00 M404.80 480.40 H414.00 M427.40 454.00 V481.20 M422.80 454.00 H432.00 M422.80 481.20 H432.00 M444.50 453.70 V483.00 M439.90 453.70 H449.10 M439.90 483.00 H449.10 M462.00 453.70 V480.60 M457.40 453.70 H466.60 M457.40 480.60 H466.60 M479.50 454.00 V483.80 M474.90 454.00 H484.10 M474.90 483.80 H484.10 M497.00 456.30 V486.60 M492.40 456.30 H501.60 M492.40 486.60 H501.60 M514.50 453.70 V486.70 M509.90 453.70 H519.10 M509.90 486.70 H519.10" stroke="#000" stroke-width="1.35" fill="none"/><circle cx="200.50" cy="495.60" r="2.85" fill="#000"/><circle cx="215.40" cy="490.42" r="2.85" fill="#000"/><circle cx="233.50" cy="484.40" r="2.85" fill="#000"/><circle cx="251.20" cy="479.97" r="2.85" fill="#000"/><circle cx="269.10" cy="476.77" r="2.85" fill="#000"/><circle cx="286.90" cy="474.02" r="2.85" fill="#000"/><circle cx="304.25" cy="471.65" r="2.85" fill="#000"/><circle cx="321.75" cy="470.10" r="2.85" fill="#000"/><circle cx="339.20" cy="469.00" r="2.85" fill="#000"/><circle cx="356.70" cy="467.90" r="2.85" fill="#000"/><circle cx="374.50" cy="467.35" r="2.85" fill="#000"/><circle cx="392.10" cy="467.80" r="2.85" fill="#000"/><circle cx="409.40" cy="466.70" r="2.85" fill="#000"/><circle cx="427.40" cy="467.60" r="2.85" fill="#000"/><circle cx="444.50" cy="468.35" r="2.85" fill="#000"/><circle cx="462.00" cy="467.15" r="2.85" fill="#000"/><circle cx="479.50" cy="468.90" r="2.85" fill="#000"/><circle cx="497.00" cy="471.45" r="2.85" fill="#000"/><circle cx="514.50" cy="470.20" r="2.85" fill="#000"/><path d="M173.30 506.32 L175.36 505.40 L177.43 504.50 L179.49 503.61 L181.55 502.73 L183.62 501.87 L185.68 501.02 L187.75 500.18 L189.81 499.35 L191.87 498.54 L193.94 497.75 L196.00 496.96" stroke="#0000ff" stroke-width="3.8" stroke-dasharray="2.2 4.87" fill="none"/><path d="M196.00 496.96 L201.47 494.94 L206.95 493.00 L212.42 491.15 L217.90 489.39 L223.37 487.70 L228.85 486.10 L234.32 484.58 L239.80 483.13 L245.27 481.75 L250.75 480.45 L256.22 479.22 L261.69 478.06 L267.17 476.97 L272.64 475.94 L278.12 474.98 L283.59 474.09 L289.07 473.24 L294.54 472.43 L300.02 471.67 L305.49 470.97 L310.97 470.33 L316.44 469.74 L321.92 469.20 L327.39 468.70 L332.86 468.26 L338.34 467.85 L343.81 467.48 L349.29 467.13 L354.76 466.83 L360.24 466.57 L365.71 466.34 L371.19 466.15 L376.66 466.02 L382.14 465.95 L387.61 465.92 L393.08 465.91 L398.56 465.92 L404.03 465.96 L409.51 466.03 L414.98 466.08 L420.46 466.16 L425.93 466.25 L431.41 466.36 L436.88 466.48 L442.36 466.62 L447.83 466.82 L453.31 467.07 L458.78 467.33 L464.25 467.58 L469.73 467.85 L475.20 468.11 L480.68 468.37 L486.15 468.63 L491.63 468.88 L497.10 469.13 L502.58 469.24 L508.05 469.34 L513.53 469.44 L519.00 469.51" stroke="#0000ff" stroke-width="2.35" fill="none"/><path d="M173.30 506.32 L175.36 505.41 L177.43 504.51 L179.49 503.62 L181.55 502.75 L183.62 501.89 L185.68 501.05 L187.75 500.22 L189.81 499.40 L191.87 498.59 L193.94 497.80 L196.00 497.02" stroke="#ff0000" stroke-width="3.8" stroke-dasharray="2.2 4.87" fill="none"/><path d="M196.00 497.02 L201.47 495.01 L206.95 493.09 L212.42 491.25 L217.90 489.50 L223.37 487.83 L228.85 486.24 L234.32 484.73 L239.80 483.29 L245.27 481.94 L250.75 480.65 L256.22 479.44 L261.69 478.29 L267.17 477.21 L272.64 476.20 L278.12 475.26 L283.59 474.37 L289.07 473.55 L294.54 472.79 L300.02 472.08 L305.49 471.43 L310.97 470.83 L316.44 470.29 L321.92 469.80 L327.39 469.35 L332.86 468.95 L338.34 468.59 L343.81 468.28 L349.29 468.01 L354.76 467.78 L360.24 467.59 L365.71 467.43 L371.19 467.31 L376.66 467.22 L382.14 467.16 L387.61 467.13 L393.08 467.13 L398.56 467.15 L404.03 467.20 L409.51 467.26 L414.98 467.35 L420.46 467.46 L425.93 467.58 L431.41 467.72 L436.88 467.87 L442.36 468.03 L447.83 468.20 L453.31 468.38 L458.78 468.57 L464.25 468.76 L469.73 468.95 L475.20 469.14 L480.68 469.33 L486.15 469.52 L491.63 469.70 L497.10 469.88 L502.58 470.05 L508.05 470.20 L513.53 470.35 L519.00 470.48" stroke="#ff0000" stroke-width="2.35" fill="none"/></g>
<g><path d="M523.60 498.49 H873.80" stroke="#3a3a3a" stroke-width="1.4" stroke-dasharray="10.3 10.58" fill="none"/><path d="M555.20 487.70 V503.10 M550.60 487.70 H559.80 M550.60 503.10 H559.80 M566.65 484.45 V502.20 M562.05 484.45 H571.25 M562.05 502.20 H571.25 M583.90 478.60 V501.20 M579.30 478.60 H588.50 M579.30 501.20 H588.50 M601.60 474.30 V500.00 M597.00 474.30 H606.20 M597.00 500.00 H606.20 M619.40 470.45 V499.30 M614.80 470.45 H624.00 M614.80 499.30 H624.00 M637.00 466.30 V497.90 M632.40 466.30 H641.60 M632.40 497.90 H641.60 M654.50 461.75 V495.70 M649.90 461.75 H659.10 M649.90 495.70 H659.10 M672.10 458.10 V493.60 M667.50 458.10 H676.70 M667.50 493.60 H676.70 M689.50 455.50 V490.80 M684.90 455.50 H694.10 M684.90 490.80 H694.10 M707.10 453.30 V489.60 M702.50 453.30 H711.70 M702.50 489.60 H711.70 M724.60 452.00 V489.00 M720.00 452.00 H729.20 M720.00 489.00 H729.20 M742.40 450.30 V487.70 M737.80 450.30 H747.00 M737.80 487.70 H747.00 M759.70 449.40 V487.10 M755.10 449.40 H764.30 M755.10 487.10 H764.30 M777.30 450.10 V488.00 M772.70 450.10 H781.90 M772.70 488.00 H781.90 M794.50 447.75 V489.60 M789.90 447.75 H799.10 M789.90 489.60 H799.10 M812.00 447.20 V486.40 M807.40 447.20 H816.60 M807.40 486.40 H816.60 M829.50 447.20 V485.30 M824.90 447.20 H834.10 M824.90 485.30 H834.10 M847.30 448.80 V488.10 M842.70 448.80 H851.90 M842.70 488.10 H851.90 M864.80 446.20 V482.90 M860.20 446.20 H869.40 M860.20 482.90 H869.40" stroke="#000" stroke-width="1.35" fill="none"/><circle cx="555.20" cy="495.40" r="2.85" fill="#000"/><circle cx="566.65" cy="493.32" r="2.85" fill="#000"/><circle cx="583.90" cy="489.90" r="2.85" fill="#000"/><circle cx="601.60" cy="487.15" r="2.85" fill="#000"/><circle cx="619.40" cy="484.88" r="2.85" fill="#000"/><circle cx="637.00" cy="482.10" r="2.85" fill="#000"/><circle cx="654.50" cy="478.72" r="2.85" fill="#000"/><circle cx="672.10" cy="475.85" r="2.85" fill="#000"/><circle cx="689.50" cy="473.15" r="2.85" fill="#000"/><circle cx="707.10" cy="471.45" r="2.85" fill="#000"/><circle cx="724.60" cy="470.50" r="2.85" fill="#000"/><circle cx="742.40" cy="469.00" r="2.85" fill="#000"/><circle cx="759.70" cy="468.25" r="2.85" fill="#000"/><circle cx="777.30" cy="469.05" r="2.85" fill="#000"/><circle cx="794.50" cy="468.67" r="2.85" fill="#000"/><circle cx="812.00" cy="466.80" r="2.85" fill="#000"/><circle cx="829.50" cy="466.25" r="2.85" fill="#000"/><circle cx="847.30" cy="468.45" r="2.85" fill="#000"/><circle cx="864.80" cy="464.55" r="2.85" fill="#000"/><path d="M523.60 509.82 L526.06 508.75 L528.53 507.70 L530.99 506.66 L533.45 505.65 L535.92 504.65 L538.38 503.67 L540.85 502.71 L543.31 501.76 L545.77 500.84 L548.24 499.93 L550.70 499.04" stroke="#0000ff" stroke-width="3.8" stroke-dasharray="2.2 4.87" fill="none"/><path d="M550.70 499.04 L556.10 497.14 L561.50 495.32 L566.90 493.58 L572.30 491.91 L577.70 490.31 L583.10 488.78 L588.50 487.32 L593.90 485.92 L599.30 484.58 L604.70 483.31 L610.10 482.10 L615.50 480.94 L620.90 479.84 L626.30 478.79 L631.70 477.79 L637.10 476.84 L642.50 475.94 L647.90 475.09 L653.30 474.27 L658.70 473.51 L664.10 472.78 L669.50 472.08 L674.90 471.43 L680.30 470.81 L685.70 470.22 L691.10 469.67 L696.50 469.14 L701.90 468.65 L707.30 468.18 L712.70 467.74 L718.10 467.32 L723.50 466.92 L728.90 466.54 L734.30 466.18 L739.70 465.85 L745.10 465.52 L750.50 465.22 L755.90 464.92 L761.30 464.64 L766.70 464.38 L772.10 464.12 L777.50 463.87 L782.90 463.63 L788.30 463.39 L793.70 463.16 L799.10 462.93 L804.50 462.71 L809.90 462.49 L815.30 462.27 L820.70 462.05 L826.10 461.83 L831.50 461.61 L836.90 461.38 L842.30 461.15 L847.70 460.92 L853.10 460.68 L858.50 460.43 L863.90 460.18 L869.30 459.91" stroke="#0000ff" stroke-width="2.35" fill="none"/><path d="M523.60 502.50 L526.06 501.94 L528.53 501.38 L530.99 500.82 L533.45 500.27 L535.92 499.72 L538.38 499.18 L540.85 498.64 L543.31 498.11 L545.77 497.58 L548.24 497.06 L550.70 496.54" stroke="#ff0000" stroke-width="3.8" stroke-dasharray="2.2 4.87" fill="none"/><path d="M550.70 496.54 L556.10 495.42 L561.50 494.31 L566.90 493.23 L572.30 492.17 L577.70 491.14 L583.10 490.12 L588.50 489.13 L593.90 488.15 L599.30 487.20 L604.70 486.27 L610.10 485.36 L615.50 484.47 L620.90 483.61 L626.30 482.76 L631.70 481.94 L637.10 481.14 L642.50 480.35 L647.90 479.59 L653.30 478.86 L658.70 478.14 L664.10 477.44 L669.50 476.77 L674.90 476.11 L680.30 475.48 L685.70 474.87 L691.10 474.28 L696.50 473.71 L701.90 473.16 L707.30 472.64 L712.70 472.13 L718.10 471.65 L723.50 471.18 L728.90 470.74 L734.30 470.32 L739.70 469.92 L745.10 469.54 L750.50 469.19 L755.90 468.85 L761.30 468.53 L766.70 468.24 L772.10 467.97 L777.50 467.71 L782.90 467.48 L788.30 467.27 L793.70 467.08 L799.10 466.92 L804.50 466.77 L809.90 466.64 L815.30 466.54 L820.70 466.45 L826.10 466.39 L831.50 466.35 L836.90 466.33 L842.30 466.32 L847.70 466.35 L853.10 466.39 L858.50 466.45 L863.90 466.53 L869.30 466.64" stroke="#ff0000" stroke-width="2.35" fill="none"/></g>
<path d="M173.30 55.10 h350.20 v124.15 h-350.20 Z M523.60 55.10 h350.20 v124.15 h-350.20 Z M173.30 179.25 h350.20 v124.15 h-350.20 Z M523.60 179.25 h350.20 v124.15 h-350.20 Z M173.30 303.40 h350.20 v124.15 h-350.20 Z M523.60 303.40 h350.20 v124.15 h-350.20 Z M173.30 427.55 h350.20 v124.15 h-350.20 Z M523.60 427.55 h350.20 v124.15 h-350.20 Z M173.30 72.84 h7 M516.60 72.84 h14 M873.80 72.84 h-7 M173.30 90.57 h7 M516.60 90.57 h14 M873.80 90.57 h-7 M173.30 108.31 h7 M516.60 108.31 h14 M873.80 108.31 h-7 M173.30 126.04 h7 M516.60 126.04 h14 M873.80 126.04 h-7 M173.30 143.78 h7 M516.60 143.78 h14 M873.80 143.78 h-7 M173.30 161.51 h7 M516.60 161.51 h14 M873.80 161.51 h-7 M173.30 196.99 h7 M516.60 196.99 h14 M873.80 196.99 h-7 M173.30 214.72 h7 M516.60 214.72 h14 M873.80 214.72 h-7 M173.30 232.46 h7 M516.60 232.46 h14 M873.80 232.46 h-7 M173.30 250.19 h7 M516.60 250.19 h14 M873.80 250.19 h-7 M173.30 267.93 h7 M516.60 267.93 h14 M873.80 267.93 h-7 M173.30 285.66 h7 M516.60 285.66 h14 M873.80 285.66 h-7 M173.30 321.14 h7 M516.60 321.14 h14 M873.80 321.14 h-7 M173.30 338.87 h7 M516.60 338.87 h14 M873.80 338.87 h-7 M173.30 356.61 h7 M516.60 356.61 h14 M873.80 356.61 h-7 M173.30 374.34 h7 M516.60 374.34 h14 M873.80 374.34 h-7 M173.30 392.08 h7 M516.60 392.08 h14 M873.80 392.08 h-7 M173.30 409.81 h7 M516.60 409.81 h14 M873.80 409.81 h-7 M173.30 445.29 h7 M516.60 445.29 h14 M873.80 445.29 h-7 M173.30 463.02 h7 M516.60 463.02 h14 M873.80 463.02 h-7 M173.30 480.76 h7 M516.60 480.76 h14 M873.80 480.76 h-7 M173.30 498.49 h7 M516.60 498.49 h14 M873.80 498.49 h-7 M173.30 516.23 h7 M516.60 516.23 h14 M873.80 516.23 h-7 M173.30 533.96 h7 M516.60 533.96 h14 M873.80 533.96 h-7" stroke="#000" stroke-width="1.5" fill="none" stroke-linejoin="miter"/>
<path d="M195.19 55.10 v1.40 M195.19 177.85 v2.80 M195.19 302.00 v2.80 M195.19 426.15 v2.80 M195.19 551.70 v-1.40 M217.08 55.10 v1.40 M217.08 177.85 v2.80 M217.08 302.00 v2.80 M217.08 426.15 v2.80 M217.08 551.70 v-1.40 M238.96 55.10 v1.40 M238.96 177.85 v2.80 M238.96 302.00 v2.80 M238.96 426.15 v2.80 M238.96 551.70 v-1.40 M260.85 55.10 v3.00 M260.85 176.25 v6.00 M260.85 300.40 v6.00 M260.85 424.55 v6.00 M260.85 551.70 v-3.00 M282.74 55.10 v1.40 M282.74 177.85 v2.80 M282.74 302.00 v2.80 M282.74 426.15 v2.80 M282.74 551.70 v-1.40 M304.62 55.10 v1.40 M304.62 177.85 v2.80 M304.62 302.00 v2.80 M304.62 426.15 v2.80 M304.62 551.70 v-1.40 M326.51 55.10 v1.40 M326.51 177.85 v2.80 M326.51 302.00 v2.80 M326.51 426.15 v2.80 M326.51 551.70 v-1.40 M348.40 55.10 v3.00 M348.40 176.25 v6.00 M348.40 300.40 v6.00 M348.40 424.55 v6.00 M348.40 551.70 v-3.00 M370.29 55.10 v1.40 M370.29 177.85 v2.80 M370.29 302.00 v2.80 M370.29 426.15 v2.80 M370.29 551.70 v-1.40 M392.18 55.10 v1.40 M392.18 177.85 v2.80 M392.18 302.00 v2.80 M392.18 426.15 v2.80 M392.18 551.70 v-1.40 M414.06 55.10 v1.40 M414.06 177.85 v2.80 M414.06 302.00 v2.80 M414.06 426.15 v2.80 M414.06 551.70 v-1.40 M435.95 55.10 v3.00 M435.95 176.25 v6.00 M435.95 300.40 v6.00 M435.95 424.55 v6.00 M435.95 551.70 v-3.00 M457.84 55.10 v1.40 M457.84 177.85 v2.80 M457.84 302.00 v2.80 M457.84 426.15 v2.80 M457.84 551.70 v-1.40 M479.72 55.10 v1.40 M479.72 177.85 v2.80 M479.72 302.00 v2.80 M479.72 426.15 v2.80 M479.72 551.70 v-1.40 M501.61 55.10 v1.40 M501.61 177.85 v2.80 M501.61 302.00 v2.80 M501.61 426.15 v2.80 M501.61 551.70 v-1.40 M545.49 55.10 v1.40 M545.49 177.85 v2.80 M545.49 302.00 v2.80 M545.49 426.15 v2.80 M545.49 551.70 v-1.40 M567.38 55.10 v1.40 M567.38 177.85 v2.80 M567.38 302.00 v2.80 M567.38 426.15 v2.80 M567.38 551.70 v-1.40 M589.26 55.10 v1.40 M589.26 177.85 v2.80 M589.26 302.00 v2.80 M589.26 426.15 v2.80 M589.26 551.70 v-1.40 M611.15 55.10 v3.00 M611.15 176.25 v6.00 M611.15 300.40 v6.00 M611.15 424.55 v6.00 M611.15 551.70 v-3.00 M633.04 55.10 v1.40 M633.04 177.85 v2.80 M633.04 302.00 v2.80 M633.04 426.15 v2.80 M633.04 551.70 v-1.40 M654.92 55.10 v1.40 M654.92 177.85 v2.80 M654.92 302.00 v2.80 M654.92 426.15 v2.80 M654.92 551.70 v-1.40 M676.81 55.10 v1.40 M676.81 177.85 v2.80 M676.81 302.00 v2.80 M676.81 426.15 v2.80 M676.81 551.70 v-1.40 M698.70 55.10 v3.00 M698.70 176.25 v6.00 M698.70 300.40 v6.00 M698.70 424.55 v6.00 M698.70 551.70 v-3.00 M720.59 55.10 v1.40 M720.59 177.85 v2.80 M720.59 302.00 v2.80 M720.59 426.15 v2.80 M720.59 551.70 v-1.40 M742.48 55.10 v1.40 M742.48 177.85 v2.80 M742.48 302.00 v2.80 M742.48 426.15 v2.80 M742.48 551.70 v-1.40 M764.36 55.10 v1.40 M764.36 177.85 v2.80 M764.36 302.00 v2.80 M764.36 426.15 v2.80 M764.36 551.70 v-1.40 M786.25 55.10 v3.00 M786.25 176.25 v6.00 M786.25 300.40 v6.00 M786.25 424.55 v6.00 M786.25 551.70 v-3.00 M808.14 55.10 v1.40 M808.14 177.85 v2.80 M808.14 302.00 v2.80 M808.14 426.15 v2.80 M808.14 551.70 v-1.40 M830.02 55.10 v1.40 M830.02 177.85 v2.80 M830.02 302.00 v2.80 M830.02 426.15 v2.80 M830.02 551.70 v-1.40 M851.91 55.10 v1.40 M851.91 177.85 v2.80 M851.91 302.00 v2.80 M851.91 426.15 v2.80 M851.91 551.70 v-1.40" stroke="#000" stroke-width="1.3" fill="none"/>
<path d="M142.58 55.31 L140.77 55.88 L139.56 57.61 L138.96 60.49 L138.96 62.22 L139.56 65.10 L140.77 66.82 L142.58 67.40 L143.78 67.40 L145.59 66.82 L146.80 65.10 L147.40 62.22 L147.40 60.49 L146.80 57.61 L145.59 55.88 L143.78 55.31 L142.58 55.31 M152.23 66.25 L151.62 66.82 L152.23 67.40 L152.83 66.82 L152.23 66.25 M157.65 58.19 L157.65 57.61 L158.25 56.46 L158.86 55.88 L160.06 55.31 L162.48 55.31 L163.68 55.88 L164.29 56.46 L164.89 57.61 L164.89 58.76 L164.29 59.91 L163.08 61.64 L157.05 67.40 L165.49 67.40 M142.58 85.68 L140.77 86.25 L139.56 87.98 L138.96 90.86 L138.96 92.59 L139.56 95.47 L140.77 97.20 L142.58 97.77 L143.78 97.77 L145.59 97.20 L146.80 95.47 L147.40 92.59 L147.40 90.86 L146.80 87.98 L145.59 86.25 L143.78 85.68 L142.58 85.68 M152.23 96.62 L151.62 97.20 L152.23 97.77 L152.83 97.20 L152.23 96.62 M158.86 87.98 L160.06 87.41 L161.87 85.68 L161.87 97.77 M142.58 121.15 L140.77 121.73 L139.56 123.45 L138.96 126.33 L138.96 128.06 L139.56 130.94 L140.77 132.67 L142.58 133.24 L143.78 133.24 L145.59 132.67 L146.80 130.94 L147.40 128.06 L147.40 126.33 L146.80 123.45 L145.59 121.73 L143.78 121.15 L142.58 121.15 M152.23 132.09 L151.62 132.67 L152.23 133.24 L152.83 132.67 L152.23 132.09 M160.67 121.15 L158.86 121.73 L157.65 123.45 L157.05 126.33 L157.05 128.06 L157.65 130.94 L158.86 132.67 L160.67 133.24 L161.87 133.24 L163.68 132.67 L164.89 130.94 L165.49 128.06 L165.49 126.33 L164.89 123.45 L163.68 121.73 L161.87 121.15 L160.67 121.15 M123.88 163.53 L134.74 163.53 M142.58 156.62 L140.77 157.20 L139.56 158.92 L138.96 161.80 L138.96 163.53 L139.56 166.41 L140.77 168.14 L142.58 168.71 L143.78 168.71 L145.59 168.14 L146.80 166.41 L147.40 163.53 L147.40 161.80 L146.80 158.92 L145.59 157.20 L143.78 156.62 L142.58 156.62 M152.23 167.56 L151.62 168.14 L152.23 168.71 L152.83 168.14 L152.23 167.56 M158.86 158.92 L160.06 158.35 L161.87 156.62 L161.87 168.71 M142.58 179.46 L140.77 180.03 L139.56 181.76 L138.96 184.64 L138.96 186.37 L139.56 189.25 L140.77 190.97 L142.58 191.55 L143.78 191.55 L145.59 190.97 L146.80 189.25 L147.40 186.37 L147.40 184.64 L146.80 181.76 L145.59 180.03 L143.78 179.46 L142.58 179.46 M152.23 190.40 L151.62 190.97 L152.23 191.55 L152.83 190.97 L152.23 190.40 M157.65 182.34 L157.65 181.76 L158.25 180.61 L158.86 180.03 L160.06 179.46 L162.48 179.46 L163.68 180.03 L164.29 180.61 L164.89 181.76 L164.89 182.91 L164.29 184.06 L163.08 185.79 L157.05 191.55 L165.49 191.55 M142.58 209.83 L140.77 210.40 L139.56 212.13 L138.96 215.01 L138.96 216.74 L139.56 219.62 L140.77 221.35 L142.58 221.92 L143.78 221.92 L145.59 221.35 L146.80 219.62 L147.40 216.74 L147.40 215.01 L146.80 212.13 L145.59 210.40 L143.78 209.83 L142.58 209.83 M152.23 220.77 L151.62 221.35 L152.23 221.92 L152.83 221.35 L152.23 220.77 M158.86 212.13 L160.06 211.56 L161.87 209.83 L161.87 221.92 M142.58 245.30 L140.77 245.88 L139.56 247.60 L138.96 250.48 L138.96 252.21 L139.56 255.09 L140.77 256.82 L142.58 257.39 L143.78 257.39 L145.59 256.82 L146.80 255.09 L147.40 252.21 L147.40 250.48 L146.80 247.60 L145.59 245.88 L143.78 245.30 L142.58 245.30 M152.23 256.24 L151.62 256.82 L152.23 257.39 L152.83 256.82 L152.23 256.24 M160.67 245.30 L158.86 245.88 L157.65 247.60 L157.05 250.48 L157.05 252.21 L157.65 255.09 L158.86 256.82 L160.67 257.39 L161.87 257.39 L163.68 256.82 L164.89 255.09 L165.49 252.21 L165.49 250.48 L164.89 247.60 L163.68 245.88 L161.87 245.30 L160.67 245.30 M123.88 287.68 L134.74 287.68 M142.58 280.77 L140.77 281.35 L139.56 283.07 L138.96 285.95 L138.96 287.68 L139.56 290.56 L140.77 292.29 L142.58 292.86 L143.78 292.86 L145.59 292.29 L146.80 290.56 L147.40 287.68 L147.40 285.95 L146.80 283.07 L145.59 281.35 L143.78 280.77 L142.58 280.77 M152.23 291.71 L151.62 292.29 L152.23 292.86 L152.83 292.29 L152.23 291.71 M158.86 283.07 L160.06 282.50 L161.87 280.77 L161.87 292.86 M142.58 303.61 L140.77 304.18 L139.56 305.91 L138.96 308.79 L138.96 310.52 L139.56 313.40 L140.77 315.12 L142.58 315.70 L143.78 315.70 L145.59 315.12 L146.80 313.40 L147.40 310.52 L147.40 308.79 L146.80 305.91 L145.59 304.18 L143.78 303.61 L142.58 303.61 M152.23 314.55 L151.62 315.12 L152.23 315.70 L152.83 315.12 L152.23 314.55 M157.65 306.49 L157.65 305.91 L158.25 304.76 L158.86 304.18 L160.06 303.61 L162.48 303.61 L163.68 304.18 L164.29 304.76 L164.89 305.91 L164.89 307.06 L164.29 308.21 L163.08 309.94 L157.05 315.70 L165.49 315.70 M142.58 333.98 L140.77 334.55 L139.56 336.28 L138.96 339.16 L138.96 340.89 L139.56 343.77 L140.77 345.50 L142.58 346.07 L143.78 346.07 L145.59 345.50 L146.80 343.77 L147.40 340.89 L147.40 339.16 L146.80 336.28 L145.59 334.55 L143.78 333.98 L142.58 333.98 M152.23 344.92 L151.62 345.50 L152.23 346.07 L152.83 345.50 L152.23 344.92 M158.86 336.28 L160.06 335.71 L161.87 333.98 L161.87 346.07 M142.58 369.45 L140.77 370.03 L139.56 371.75 L138.96 374.63 L138.96 376.36 L139.56 379.24 L140.77 380.97 L142.58 381.54 L143.78 381.54 L145.59 380.97 L146.80 379.24 L147.40 376.36 L147.40 374.63 L146.80 371.75 L145.59 370.03 L143.78 369.45 L142.58 369.45 M152.23 380.39 L151.62 380.97 L152.23 381.54 L152.83 380.97 L152.23 380.39 M160.67 369.45 L158.86 370.03 L157.65 371.75 L157.05 374.63 L157.05 376.36 L157.65 379.24 L158.86 380.97 L160.67 381.54 L161.87 381.54 L163.68 380.97 L164.89 379.24 L165.49 376.36 L165.49 374.63 L164.89 371.75 L163.68 370.03 L161.87 369.45 L160.67 369.45 M123.88 411.83 L134.74 411.83 M142.58 404.92 L140.77 405.50 L139.56 407.22 L138.96 410.10 L138.96 411.83 L139.56 414.71 L140.77 416.44 L142.58 417.01 L143.78 417.01 L145.59 416.44 L146.80 414.71 L147.40 411.83 L147.40 410.10 L146.80 407.22 L145.59 405.50 L143.78 404.92 L142.58 404.92 M152.23 415.86 L151.62 416.44 L152.23 417.01 L152.83 416.44 L152.23 415.86 M158.86 407.22 L160.06 406.65 L161.87 404.92 L161.87 417.01 M142.58 427.76 L140.77 428.33 L139.56 430.06 L138.96 432.94 L138.96 434.67 L139.56 437.55 L140.77 439.27 L142.58 439.85 L143.78 439.85 L145.59 439.27 L146.80 437.55 L147.40 434.67 L147.40 432.94 L146.80 430.06 L145.59 428.33 L143.78 427.76 L142.58 427.76 M152.23 438.70 L151.62 439.27 L152.23 439.85 L152.83 439.27 L152.23 438.70 M157.65 430.64 L157.65 430.06 L158.25 428.91 L158.86 428.33 L160.06 427.76 L162.48 427.76 L163.68 428.33 L164.29 428.91 L164.89 430.06 L164.89 431.21 L164.29 432.36 L163.08 434.09 L157.05 439.85 L165.49 439.85 M142.58 458.13 L140.77 458.70 L139.56 460.43 L138.96 463.31 L138.96 465.04 L139.56 467.92 L140.77 469.65 L142.58 470.22 L143.78 470.22 L145.59 469.65 L146.80 467.92 L147.40 465.04 L147.40 463.31 L146.80 460.43 L145.59 458.70 L143.78 458.13 L142.58 458.13 M152.23 469.07 L151.62 469.65 L152.23 470.22 L152.83 469.65 L152.23 469.07 M158.86 460.43 L160.06 459.86 L161.87 458.13 L161.87 470.22 M142.58 493.60 L140.77 494.18 L139.56 495.90 L138.96 498.78 L138.96 500.51 L139.56 503.39 L140.77 505.12 L142.58 505.69 L143.78 505.69 L145.59 505.12 L146.80 503.39 L147.40 500.51 L147.40 498.78 L146.80 495.90 L145.59 494.18 L143.78 493.60 L142.58 493.60 M152.23 504.54 L151.62 505.12 L152.23 505.69 L152.83 505.12 L152.23 504.54 M160.67 493.60 L158.86 494.18 L157.65 495.90 L157.05 498.78 L157.05 500.51 L157.65 503.39 L158.86 505.12 L160.67 505.69 L161.87 505.69 L163.68 505.12 L164.89 503.39 L165.49 500.51 L165.49 498.78 L164.89 495.90 L163.68 494.18 L161.87 493.60 L160.67 493.60 M123.88 535.98 L134.74 535.98 M142.58 529.07 L140.77 529.65 L139.56 531.37 L138.96 534.25 L138.96 535.98 L139.56 538.86 L140.77 540.59 L142.58 541.16 L143.78 541.16 L145.59 540.59 L146.80 538.86 L147.40 535.98 L147.40 534.25 L146.80 531.37 L145.59 529.65 L143.78 529.07 L142.58 529.07 M152.23 540.01 L151.62 540.59 L152.23 541.16 L152.83 540.59 L152.23 540.01 M158.86 531.37 L160.06 530.80 L161.87 529.07 L161.87 541.16 M172.19 567.22 L170.36 567.80 L169.14 569.55 L168.53 572.46 L168.53 574.21 L169.14 577.12 L170.36 578.87 L172.19 579.45 L173.41 579.45 L175.24 578.87 L176.46 577.12 L177.07 574.21 L177.07 572.46 L176.46 569.55 L175.24 567.80 L173.41 567.22 L172.19 567.22 M244.49 570.13 L244.49 569.55 L245.10 568.38 L245.71 567.80 L246.93 567.22 L249.37 567.22 L250.59 567.80 L251.20 568.38 L251.81 569.55 L251.81 570.71 L251.20 571.88 L249.98 573.62 L243.88 579.45 L252.42 579.45 M259.74 567.22 L257.91 567.80 L256.69 569.55 L256.08 572.46 L256.08 574.21 L256.69 577.12 L257.91 578.87 L259.74 579.45 L260.96 579.45 L262.79 578.87 L264.01 577.12 L264.62 574.21 L264.62 572.46 L264.01 569.55 L262.79 567.80 L260.96 567.22 L259.74 567.22 M271.94 567.22 L270.11 567.80 L268.89 569.55 L268.28 572.46 L268.28 574.21 L268.89 577.12 L270.11 578.87 L271.94 579.45 L273.16 579.45 L274.99 578.87 L276.21 577.12 L276.82 574.21 L276.82 572.46 L276.21 569.55 L274.99 567.80 L273.16 567.22 L271.94 567.22 M337.53 567.22 L331.43 575.37 L340.58 575.37 M337.53 567.22 L337.53 579.45 M347.29 567.22 L345.46 567.80 L344.24 569.55 L343.63 572.46 L343.63 574.21 L344.24 577.12 L345.46 578.87 L347.29 579.45 L348.51 579.45 L350.34 578.87 L351.56 577.12 L352.17 574.21 L352.17 572.46 L351.56 569.55 L350.34 567.80 L348.51 567.22 L347.29 567.22 M359.49 567.22 L357.66 567.80 L356.44 569.55 L355.83 572.46 L355.83 574.21 L356.44 577.12 L357.66 578.87 L359.49 579.45 L360.71 579.45 L362.54 578.87 L363.76 577.12 L364.37 574.21 L364.37 572.46 L363.76 569.55 L362.54 567.80 L360.71 567.22 L359.49 567.22 M426.91 568.96 L426.30 567.80 L424.47 567.22 L423.25 567.22 L421.42 567.80 L420.20 569.55 L419.59 572.46 L419.59 575.37 L420.20 577.70 L421.42 578.87 L423.25 579.45 L423.86 579.45 L425.69 578.87 L426.91 577.70 L427.52 575.95 L427.52 575.37 L426.91 573.62 L425.69 572.46 L423.86 571.88 L423.25 571.88 L421.42 572.46 L420.20 573.62 L419.59 575.37 M434.84 567.22 L433.01 567.80 L431.79 569.55 L431.18 572.46 L431.18 574.21 L431.79 577.12 L433.01 578.87 L434.84 579.45 L436.06 579.45 L437.89 578.87 L439.11 577.12 L439.72 574.21 L439.72 572.46 L439.11 569.55 L437.89 567.80 L436.06 567.22 L434.84 567.22 M447.04 567.22 L445.21 567.80 L443.99 569.55 L443.38 572.46 L443.38 574.21 L443.99 577.12 L445.21 578.87 L447.04 579.45 L448.26 579.45 L450.09 578.87 L451.31 577.12 L451.92 574.21 L451.92 572.46 L451.31 569.55 L450.09 567.80 L448.26 567.22 L447.04 567.22 M509.58 567.22 L507.75 567.80 L507.14 568.96 L507.14 570.13 L507.75 571.29 L508.97 571.88 L511.41 572.46 L513.24 573.04 L514.46 574.21 L515.07 575.37 L515.07 577.12 L514.46 578.28 L513.85 578.87 L512.02 579.45 L509.58 579.45 L507.75 578.87 L507.14 578.28 L506.53 577.12 L506.53 575.37 L507.14 574.21 L508.36 573.04 L510.19 572.46 L512.63 571.88 L513.85 571.29 L514.46 570.13 L514.46 568.96 L513.85 567.80 L512.02 567.22 L509.58 567.22 M522.39 567.22 L520.56 567.80 L519.34 569.55 L518.73 572.46 L518.73 574.21 L519.34 577.12 L520.56 578.87 L522.39 579.45 L523.61 579.45 L525.44 578.87 L526.66 577.12 L527.27 574.21 L527.27 572.46 L526.66 569.55 L525.44 567.80 L523.61 567.22 L522.39 567.22 M534.59 567.22 L532.76 567.80 L531.54 569.55 L530.93 572.46 L530.93 574.21 L531.54 577.12 L532.76 578.87 L534.59 579.45 L535.81 579.45 L537.64 578.87 L538.86 577.12 L539.47 574.21 L539.47 572.46 L538.86 569.55 L537.64 567.80 L535.81 567.22 L534.59 567.22 M594.79 570.13 L594.79 569.55 L595.40 568.38 L596.01 567.80 L597.23 567.22 L599.67 567.22 L600.89 567.80 L601.50 568.38 L602.11 569.55 L602.11 570.71 L601.50 571.88 L600.28 573.62 L594.18 579.45 L602.72 579.45 M610.04 567.22 L608.21 567.80 L606.99 569.55 L606.38 572.46 L606.38 574.21 L606.99 577.12 L608.21 578.87 L610.04 579.45 L611.26 579.45 L613.09 578.87 L614.31 577.12 L614.92 574.21 L614.92 572.46 L614.31 569.55 L613.09 567.80 L611.26 567.22 L610.04 567.22 M622.24 567.22 L620.41 567.80 L619.19 569.55 L618.58 572.46 L618.58 574.21 L619.19 577.12 L620.41 578.87 L622.24 579.45 L623.46 579.45 L625.29 578.87 L626.51 577.12 L627.12 574.21 L627.12 572.46 L626.51 569.55 L625.29 567.80 L623.46 567.22 L622.24 567.22 M687.83 567.22 L681.73 575.37 L690.88 575.37 M687.83 567.22 L687.83 579.45 M697.59 567.22 L695.76 567.80 L694.54 569.55 L693.93 572.46 L693.93 574.21 L694.54 577.12 L695.76 578.87 L697.59 579.45 L698.81 579.45 L700.64 578.87 L701.86 577.12 L702.47 574.21 L702.47 572.46 L701.86 569.55 L700.64 567.80 L698.81 567.22 L697.59 567.22 M709.79 567.22 L707.96 567.80 L706.74 569.55 L706.13 572.46 L706.13 574.21 L706.74 577.12 L707.96 578.87 L709.79 579.45 L711.01 579.45 L712.84 578.87 L714.06 577.12 L714.67 574.21 L714.67 572.46 L714.06 569.55 L712.84 567.80 L711.01 567.22 L709.79 567.22 M777.21 568.96 L776.60 567.80 L774.77 567.22 L773.55 567.22 L771.72 567.80 L770.50 569.55 L769.89 572.46 L769.89 575.37 L770.50 577.70 L771.72 578.87 L773.55 579.45 L774.16 579.45 L775.99 578.87 L777.21 577.70 L777.82 575.95 L777.82 575.37 L777.21 573.62 L775.99 572.46 L774.16 571.88 L773.55 571.88 L771.72 572.46 L770.50 573.62 L769.89 575.37 M785.14 567.22 L783.31 567.80 L782.09 569.55 L781.48 572.46 L781.48 574.21 L782.09 577.12 L783.31 578.87 L785.14 579.45 L786.36 579.45 L788.19 578.87 L789.41 577.12 L790.02 574.21 L790.02 572.46 L789.41 569.55 L788.19 567.80 L786.36 567.22 L785.14 567.22 M797.34 567.22 L795.51 567.80 L794.29 569.55 L793.68 572.46 L793.68 574.21 L794.29 577.12 L795.51 578.87 L797.34 579.45 L798.56 579.45 L800.39 578.87 L801.61 577.12 L802.22 574.21 L802.22 572.46 L801.61 569.55 L800.39 567.80 L798.56 567.22 L797.34 567.22 M859.88 567.22 L858.05 567.80 L857.44 568.96 L857.44 570.13 L858.05 571.29 L859.27 571.88 L861.71 572.46 L863.54 573.04 L864.76 574.21 L865.37 575.37 L865.37 577.12 L864.76 578.28 L864.15 578.87 L862.32 579.45 L859.88 579.45 L858.05 578.87 L857.44 578.28 L856.83 577.12 L856.83 575.37 L857.44 574.21 L858.66 573.04 L860.49 572.46 L862.93 571.88 L864.15 571.29 L864.76 570.13 L864.76 568.96 L864.15 567.80 L862.32 567.22 L859.88 567.22 M872.69 567.22 L870.86 567.80 L869.64 569.55 L869.03 572.46 L869.03 574.21 L869.64 577.12 L870.86 578.87 L872.69 579.45 L873.91 579.45 L875.74 578.87 L876.96 577.12 L877.57 574.21 L877.57 572.46 L876.96 569.55 L875.74 567.80 L873.91 567.22 L872.69 567.22 M884.89 567.22 L883.06 567.80 L881.84 569.55 L881.23 572.46 L881.23 574.21 L881.84 577.12 L883.06 578.87 L884.89 579.45 L886.11 579.45 L887.94 578.87 L889.16 577.12 L889.77 574.21 L889.77 572.46 L889.16 569.55 L887.94 567.80 L886.11 567.22 L884.89 567.22 M304.54 592.41 L294.73 597.68 L304.54 602.95 M309.44 590.66 L309.44 602.95 M309.44 590.66 L314.96 590.66 L316.80 591.24 L317.41 591.83 L318.03 593.00 L318.03 594.17 L317.41 595.34 L316.80 595.93 L314.96 596.51 M309.44 596.51 L314.96 596.51 L316.80 597.10 L317.41 597.68 L318.03 598.85 L318.03 600.61 L317.41 601.78 L316.80 602.36 L314.96 602.95 L309.44 602.95 M321.38 600.66 L321.38 607.33 M325.36 592.41 L335.16 597.68 L325.36 602.95 M349.88 588.31 L338.84 607.05 M355.39 594.75 L351.72 607.05 M354.78 597.10 L354.17 600.02 L354.17 601.78 L355.39 602.95 L356.62 602.95 L357.85 602.36 L359.07 601.19 L360.30 598.85 M361.52 594.75 L360.30 598.85 L359.68 601.19 L359.68 602.36 L360.30 602.95 L361.52 602.95 L362.75 601.78 L363.36 600.61 M376.24 588.31 L376.24 607.05 M376.85 588.31 L376.85 607.05 M376.24 588.31 L380.53 588.31 M376.24 607.05 L380.53 607.05 M393.40 593.58 L392.79 592.41 L391.56 591.24 L390.33 590.66 L387.88 590.66 L386.66 591.24 L385.43 592.41 L384.82 593.58 L384.20 595.34 L384.20 598.27 L384.82 600.02 L385.43 601.19 L386.66 602.36 L387.88 602.95 L390.33 602.95 L391.56 602.36 L392.79 601.19 L393.40 600.02 L393.40 598.27 M390.33 598.27 L393.40 598.27 M400.76 588.31 L400.76 607.05 M401.37 588.31 L401.37 607.05 M397.08 588.31 L401.37 588.31 M397.08 607.05 L401.37 607.05 M654.84 592.41 L645.03 597.68 L654.84 602.95 M659.74 590.66 L659.74 602.95 M659.74 590.66 L665.26 590.66 L667.10 591.24 L667.71 591.83 L668.33 593.00 L668.33 594.17 L667.71 595.34 L667.10 595.93 L665.26 596.51 M659.74 596.51 L665.26 596.51 L667.10 597.10 L667.71 597.68 L668.33 598.85 L668.33 600.61 L667.71 601.78 L667.10 602.36 L665.26 602.95 L659.74 602.95 M671.68 600.66 L671.68 607.33 M675.66 592.41 L685.46 597.68 L675.66 602.95 M700.18 588.31 L689.14 607.05 M705.69 594.75 L702.02 607.05 M705.08 597.10 L704.47 600.02 L704.47 601.78 L705.69 602.95 L706.92 602.95 L708.15 602.36 L709.37 601.19 L710.60 598.85 M711.82 594.75 L710.60 598.85 L709.98 601.19 L709.98 602.36 L710.60 602.95 L711.82 602.95 L713.05 601.78 L713.66 600.61 M726.54 588.31 L726.54 607.05 M727.15 588.31 L727.15 607.05 M726.54 588.31 L730.83 588.31 M726.54 607.05 L730.83 607.05 M743.70 593.58 L743.09 592.41 L741.86 591.24 L740.63 590.66 L738.18 590.66 L736.96 591.24 L735.73 592.41 L735.12 593.58 L734.50 595.34 L734.50 598.27 L735.12 600.02 L735.73 601.19 L736.96 602.36 L738.18 602.95 L740.63 602.95 L741.86 602.36 L743.09 601.19 L743.70 600.02 L743.70 598.27 M740.63 598.27 L743.70 598.27 M751.06 588.31 L751.06 607.05 M751.67 588.31 L751.67 607.05 M747.38 588.31 L751.67 588.31 M747.38 607.05 L751.67 607.05 M95.03 433.35 L93.88 433.96 L92.72 435.17 L92.14 436.39 L92.14 438.81 L92.72 440.03 L93.88 441.24 L95.03 441.84 L96.77 442.45 L99.67 442.45 L101.40 441.84 L102.56 441.24 L103.72 440.03 L104.30 438.81 L104.30 436.39 L103.72 435.17 L102.56 433.96 L101.40 433.35 M96.19 426.68 L96.77 427.90 L97.93 429.11 L99.67 429.72 L100.83 429.72 L102.56 429.11 L103.72 427.90 L104.30 426.68 L104.30 424.87 L103.72 423.65 L102.56 422.44 L100.83 421.83 L99.67 421.83 L97.93 422.44 L96.77 423.65 L96.19 424.87 L96.19 426.68 M96.19 417.59 L104.30 417.59 M98.51 417.59 L96.77 415.77 L96.19 414.56 L96.19 412.74 L96.77 411.52 L98.51 410.92 L104.30 410.92 M92.14 405.46 L101.98 405.46 L103.72 404.85 L104.30 403.64 L104.30 402.43 M96.19 407.28 L96.19 403.03 M92.14 399.40 L92.72 398.79 L92.14 398.18 L91.56 398.79 L92.14 399.40 M96.19 398.79 L104.30 398.79 M96.19 393.94 L104.30 393.94 M98.51 393.94 L96.77 392.12 L96.19 390.91 L96.19 389.09 L96.77 387.87 L98.51 387.27 L104.30 387.27 M96.19 382.42 L101.98 382.42 L103.72 381.81 L104.30 380.60 L104.30 378.78 L103.72 377.57 L101.98 375.75 M96.19 375.75 L104.30 375.75 M96.19 370.90 L101.98 370.90 L103.72 370.29 L104.30 369.08 L104.30 367.26 L103.72 366.04 L101.98 364.23 M96.19 364.23 L104.30 364.23 M96.19 359.37 L104.30 359.37 M98.51 359.37 L96.77 357.55 L96.19 356.34 L96.19 354.52 L96.77 353.31 L98.51 352.70 L104.30 352.70 M98.51 352.70 L96.77 350.88 L96.19 349.67 L96.19 347.85 L96.77 346.64 L98.51 346.03 L104.30 346.03 M92.14 331.48 L104.30 331.48 M96.19 326.63 L104.30 326.63 M98.51 326.63 L96.77 324.81 L96.19 323.60 L96.19 321.78 L96.77 320.56 L98.51 319.96 L104.30 319.96 M92.14 314.50 L101.98 314.50 L103.72 313.89 L104.30 312.68 L104.30 311.47 M96.19 316.32 L96.19 312.07 M99.67 308.44 L99.67 301.16 L98.51 301.16 L97.35 301.77 L96.77 302.37 L96.19 303.59 L96.19 305.40 L96.77 306.62 L97.93 307.83 L99.67 308.44 L100.83 308.44 L102.56 307.83 L103.72 306.62 L104.30 305.40 L104.30 303.59 L103.72 302.37 L102.56 301.16 M96.19 296.91 L104.30 296.91 M98.51 296.91 L96.77 295.10 L96.19 293.88 L96.19 292.06 L96.77 290.85 L98.51 290.24 L104.30 290.24 M97.93 279.33 L96.77 279.94 L96.19 281.75 L96.19 283.57 L96.77 285.39 L97.93 286.00 L99.09 285.39 L99.67 284.18 L100.25 281.15 L100.83 279.94 L101.98 279.33 L102.56 279.33 L103.72 279.94 L104.30 281.75 L104.30 283.57 L103.72 285.39 L102.56 286.00 M92.14 275.69 L92.72 275.08 L92.14 274.48 L91.56 275.08 L92.14 275.69 M96.19 275.08 L104.30 275.08 M92.14 269.63 L101.98 269.63 L103.72 269.02 L104.30 267.81 L104.30 266.59 M96.19 271.45 L96.19 267.20 M96.19 264.17 L104.30 260.53 M96.19 256.89 L104.30 260.53 L106.62 261.74 L107.77 262.96 L108.35 264.17 L108.35 264.78 M95.03 235.06 L93.88 235.67 L92.72 236.88 L92.14 238.09 L92.14 240.52 L92.72 241.73 L93.88 242.95 L95.03 243.55 L96.77 244.16 L99.67 244.16 L101.40 243.55 L102.56 242.95 L103.72 241.73 L104.30 240.52 L104.30 238.09 L103.72 236.88 L102.56 235.67 L101.40 235.06 M96.19 228.39 L96.77 229.60 L97.93 230.82 L99.67 231.42 L100.83 231.42 L102.56 230.82 L103.72 229.60 L104.30 228.39 L104.30 226.57 L103.72 225.36 L102.56 224.15 L100.83 223.54 L99.67 223.54 L97.93 224.15 L96.77 225.36 L96.19 226.57 L96.19 228.39 M96.19 219.30 L104.30 219.30 M98.51 219.30 L96.77 217.48 L96.19 216.26 L96.19 214.44 L96.77 213.23 L98.51 212.63 L104.30 212.63 M92.14 207.17 L101.98 207.17 L103.72 206.56 L104.30 205.35 L104.30 204.14 M96.19 208.99 L96.19 204.74 M96.19 200.50 L104.30 200.50 M99.67 200.50 L97.93 199.89 L96.77 198.68 L96.19 197.47 L96.19 195.65 M96.19 185.94 L104.30 185.94 M97.93 185.94 L96.77 187.16 L96.19 188.37 L96.19 190.19 L96.77 191.40 L97.93 192.61 L99.67 193.22 L100.83 193.22 L102.56 192.61 L103.72 191.40 L104.30 190.19 L104.30 188.37 L103.72 187.16 L102.56 185.94 M97.93 175.03 L96.77 175.63 L96.19 177.45 L96.19 179.27 L96.77 181.09 L97.93 181.70 L99.09 181.09 L99.67 179.88 L100.25 176.85 L100.83 175.63 L101.98 175.03 L102.56 175.03 L103.72 175.63 L104.30 177.45 L104.30 179.27 L103.72 181.09 L102.56 181.70 M92.14 170.18 L101.98 170.18 L103.72 169.57 L104.30 168.36 L104.30 167.15 M96.19 172.00 L96.19 167.75 M200.09 149.22 L198.26 149.80 L197.04 151.55 L196.43 154.46 L196.43 156.21 L197.04 159.12 L198.26 160.87 L200.09 161.45 L201.31 161.45 L203.14 160.87 L204.36 159.12 L204.97 156.21 L204.97 154.46 L204.36 151.55 L203.14 149.80 L201.31 149.22 L200.09 149.22 M209.85 160.28 L209.24 160.87 L209.85 161.45 L210.46 160.87 L209.85 160.28 M222.66 153.29 L222.05 155.04 L220.83 156.21 L219.00 156.79 L218.39 156.79 L216.56 156.21 L215.34 155.04 L214.73 153.29 L214.73 152.71 L215.34 150.96 L216.56 149.80 L218.39 149.22 L219.00 149.22 L220.83 149.80 L222.05 150.96 L222.66 153.29 L222.66 156.21 L222.05 159.12 L220.83 160.87 L219.00 161.45 L217.78 161.45 L215.95 160.87 L215.34 159.70 M233.03 149.22 L226.93 157.37 L236.08 157.37 M233.03 149.22 L233.03 161.45 M249.50 150.96 L239.74 156.21 L249.50 161.45 M256.21 153.29 L252.55 165.53 M255.60 155.62 L254.99 158.54 L254.99 160.28 L256.21 161.45 L257.43 161.45 L258.65 160.87 L259.87 159.70 L261.09 157.37 M262.31 153.29 L261.09 157.37 L260.48 159.70 L260.48 160.87 L261.09 161.45 L262.31 161.45 L263.53 160.28 L264.14 159.12 M276.95 148.63 L267.98 152.71 L276.95 156.79 M268.41 158.54 L276.95 158.54 M268.41 161.22 L276.95 161.22 M283.05 151.55 L284.27 150.96 L286.10 149.22 L286.10 161.45 M294.64 160.28 L294.03 160.87 L294.64 161.45 L295.25 160.87 L294.64 160.28 M303.18 149.22 L301.35 149.80 L300.13 151.55 L299.52 154.46 L299.52 156.21 L300.13 159.12 L301.35 160.87 L303.18 161.45 L304.40 161.45 L306.23 160.87 L307.45 159.12 L308.06 156.21 L308.06 154.46 L307.45 151.55 L306.23 149.80 L304.40 149.22 L303.18 149.22 M315.38 149.22 L313.55 149.80 L312.33 151.55 L311.72 154.46 L311.72 156.21 L312.33 159.12 L313.55 160.87 L315.38 161.45 L316.60 161.45 L318.43 160.87 L319.65 159.12 L320.26 156.21 L320.26 154.46 L319.65 151.55 L318.43 149.80 L316.60 149.22 L315.38 149.22 M550.39 149.22 L548.56 149.80 L547.34 151.55 L546.73 154.46 L546.73 156.21 L547.34 159.12 L548.56 160.87 L550.39 161.45 L551.61 161.45 L553.44 160.87 L554.66 159.12 L555.27 156.21 L555.27 154.46 L554.66 151.55 L553.44 149.80 L551.61 149.22 L550.39 149.22 M560.15 160.28 L559.54 160.87 L560.15 161.45 L560.76 160.87 L560.15 160.28 M568.08 149.22 L566.25 149.80 L565.64 150.96 L565.64 152.13 L566.25 153.29 L567.47 153.88 L569.91 154.46 L571.74 155.04 L572.96 156.21 L573.57 157.37 L573.57 159.12 L572.96 160.28 L572.35 160.87 L570.52 161.45 L568.08 161.45 L566.25 160.87 L565.64 160.28 L565.03 159.12 L565.03 157.37 L565.64 156.21 L566.86 155.04 L568.69 154.46 L571.13 153.88 L572.35 153.29 L572.96 152.13 L572.96 150.96 L572.35 149.80 L570.52 149.22 L568.08 149.22 M585.77 149.22 L579.67 161.45 M577.23 149.22 L585.77 149.22 M599.80 150.96 L590.04 156.21 L599.80 161.45 M606.51 153.29 L602.85 165.53 M605.90 155.62 L605.29 158.54 L605.29 160.28 L606.51 161.45 L607.73 161.45 L608.95 160.87 L610.17 159.70 L611.39 157.37 M612.61 153.29 L611.39 157.37 L610.78 159.70 L610.78 160.87 L611.39 161.45 L612.61 161.45 L613.83 160.28 L614.44 159.12 M627.25 148.63 L618.28 152.71 L627.25 156.79 M618.71 158.54 L627.25 158.54 M618.71 161.22 L627.25 161.22 M635.18 149.22 L633.35 149.80 L632.13 151.55 L631.52 154.46 L631.52 156.21 L632.13 159.12 L633.35 160.87 L635.18 161.45 L636.40 161.45 L638.23 160.87 L639.45 159.12 L640.06 156.21 L640.06 154.46 L639.45 151.55 L638.23 149.80 L636.40 149.22 L635.18 149.22 M644.94 160.28 L644.33 160.87 L644.94 161.45 L645.55 160.87 L644.94 160.28 M657.75 153.29 L657.14 155.04 L655.92 156.21 L654.09 156.79 L653.48 156.79 L651.65 156.21 L650.43 155.04 L649.82 153.29 L649.82 152.71 L650.43 150.96 L651.65 149.80 L653.48 149.22 L654.09 149.22 L655.92 149.80 L657.14 150.96 L657.75 153.29 L657.75 156.21 L657.14 159.12 L655.92 160.87 L654.09 161.45 L652.87 161.45 L651.04 160.87 L650.43 159.70 M668.12 149.22 L662.02 157.37 L671.17 157.37 M668.12 149.22 L668.12 161.45 M200.09 273.37 L198.26 273.95 L197.04 275.70 L196.43 278.61 L196.43 280.36 L197.04 283.27 L198.26 285.02 L200.09 285.60 L201.31 285.60 L203.14 285.02 L204.36 283.27 L204.97 280.36 L204.97 278.61 L204.36 275.70 L203.14 273.95 L201.31 273.37 L200.09 273.37 M209.85 284.43 L209.24 285.02 L209.85 285.60 L210.46 285.02 L209.85 284.43 M223.27 273.37 L217.17 285.60 M214.73 273.37 L223.27 273.37 M234.86 277.44 L234.25 279.19 L233.03 280.36 L231.20 280.94 L230.59 280.94 L228.76 280.36 L227.54 279.19 L226.93 277.44 L226.93 276.86 L227.54 275.11 L228.76 273.95 L230.59 273.37 L231.20 273.37 L233.03 273.95 L234.25 275.11 L234.86 277.44 L234.86 280.36 L234.25 283.27 L233.03 285.02 L231.20 285.60 L229.98 285.60 L228.15 285.02 L227.54 283.85 M249.50 275.11 L239.74 280.36 L249.50 285.60 M256.21 277.44 L252.55 289.68 M255.60 279.77 L254.99 282.69 L254.99 284.43 L256.21 285.60 L257.43 285.60 L258.65 285.02 L259.87 283.85 L261.09 281.52 M262.31 277.44 L261.09 281.52 L260.48 283.85 L260.48 285.02 L261.09 285.60 L262.31 285.60 L263.53 284.43 L264.14 283.27 M276.95 272.78 L267.98 276.86 L276.95 280.94 M268.41 282.69 L276.95 282.69 M268.41 285.37 L276.95 285.37 M284.88 273.37 L283.05 273.95 L281.83 275.70 L281.22 278.61 L281.22 280.36 L281.83 283.27 L283.05 285.02 L284.88 285.60 L286.10 285.60 L287.93 285.02 L289.15 283.27 L289.76 280.36 L289.76 278.61 L289.15 275.70 L287.93 273.95 L286.10 273.37 L284.88 273.37 M294.64 284.43 L294.03 285.02 L294.64 285.60 L295.25 285.02 L294.64 284.43 M302.57 273.37 L300.74 273.95 L300.13 275.11 L300.13 276.28 L300.74 277.44 L301.96 278.03 L304.40 278.61 L306.23 279.19 L307.45 280.36 L308.06 281.52 L308.06 283.27 L307.45 284.43 L306.84 285.02 L305.01 285.60 L302.57 285.60 L300.74 285.02 L300.13 284.43 L299.52 283.27 L299.52 281.52 L300.13 280.36 L301.35 279.19 L303.18 278.61 L305.62 278.03 L306.84 277.44 L307.45 276.28 L307.45 275.11 L306.84 273.95 L305.01 273.37 L302.57 273.37 M320.26 273.37 L314.16 285.60 M311.72 273.37 L320.26 273.37 M550.39 273.37 L548.56 273.95 L547.34 275.70 L546.73 278.61 L546.73 280.36 L547.34 283.27 L548.56 285.02 L550.39 285.60 L551.61 285.60 L553.44 285.02 L554.66 283.27 L555.27 280.36 L555.27 278.61 L554.66 275.70 L553.44 273.95 L551.61 273.37 L550.39 273.37 M560.15 284.43 L559.54 285.02 L560.15 285.60 L560.76 285.02 L560.15 284.43 M573.57 273.37 L567.47 285.60 M565.03 273.37 L573.57 273.37 M579.06 275.70 L580.28 275.11 L582.11 273.37 L582.11 285.60 M599.80 275.11 L590.04 280.36 L599.80 285.60 M606.51 277.44 L602.85 289.68 M605.90 279.77 L605.29 282.69 L605.29 284.43 L606.51 285.60 L607.73 285.60 L608.95 285.02 L610.17 283.85 L611.39 281.52 M612.61 277.44 L611.39 281.52 L610.78 283.85 L610.78 285.02 L611.39 285.60 L612.61 285.60 L613.83 284.43 L614.44 283.27 M627.25 272.78 L618.28 276.86 L627.25 280.94 M618.71 282.69 L627.25 282.69 M618.71 285.37 L627.25 285.37 M635.18 273.37 L633.35 273.95 L632.13 275.70 L631.52 278.61 L631.52 280.36 L632.13 283.27 L633.35 285.02 L635.18 285.60 L636.40 285.60 L638.23 285.02 L639.45 283.27 L640.06 280.36 L640.06 278.61 L639.45 275.70 L638.23 273.95 L636.40 273.37 L635.18 273.37 M644.94 284.43 L644.33 285.02 L644.94 285.60 L645.55 285.02 L644.94 284.43 M658.36 273.37 L652.26 285.60 M649.82 273.37 L658.36 273.37 M669.95 277.44 L669.34 279.19 L668.12 280.36 L666.29 280.94 L665.68 280.94 L663.85 280.36 L662.63 279.19 L662.02 277.44 L662.02 276.86 L662.63 275.11 L663.85 273.95 L665.68 273.37 L666.29 273.37 L668.12 273.95 L669.34 275.11 L669.95 277.44 L669.95 280.36 L669.34 283.27 L668.12 285.02 L666.29 285.60 L665.07 285.60 L663.24 285.02 L662.63 283.85 M200.09 397.52 L198.26 398.10 L197.04 399.85 L196.43 402.76 L196.43 404.51 L197.04 407.42 L198.26 409.17 L200.09 409.75 L201.31 409.75 L203.14 409.17 L204.36 407.42 L204.97 404.51 L204.97 402.76 L204.36 399.85 L203.14 398.10 L201.31 397.52 L200.09 397.52 M209.85 408.58 L209.24 409.17 L209.85 409.75 L210.46 409.17 L209.85 408.58 M222.66 399.26 L222.05 398.10 L220.22 397.52 L219.00 397.52 L217.17 398.10 L215.95 399.85 L215.34 402.76 L215.34 405.67 L215.95 408.00 L217.17 409.17 L219.00 409.75 L219.61 409.75 L221.44 409.17 L222.66 408.00 L223.27 406.25 L223.27 405.67 L222.66 403.92 L221.44 402.76 L219.61 402.18 L219.00 402.18 L217.17 402.76 L215.95 403.92 L215.34 405.67 M228.76 399.85 L229.98 399.26 L231.81 397.52 L231.81 409.75 M249.50 399.26 L239.74 404.51 L249.50 409.75 M256.21 401.59 L252.55 413.83 M255.60 403.92 L254.99 406.84 L254.99 408.58 L256.21 409.75 L257.43 409.75 L258.65 409.17 L259.87 408.00 L261.09 405.67 M262.31 401.59 L261.09 405.67 L260.48 408.00 L260.48 409.17 L261.09 409.75 L262.31 409.75 L263.53 408.58 L264.14 407.42 M276.95 396.93 L267.98 401.01 L276.95 405.09 M268.41 406.84 L276.95 406.84 M268.41 409.52 L276.95 409.52 M284.88 397.52 L283.05 398.10 L281.83 399.85 L281.22 402.76 L281.22 404.51 L281.83 407.42 L283.05 409.17 L284.88 409.75 L286.10 409.75 L287.93 409.17 L289.15 407.42 L289.76 404.51 L289.76 402.76 L289.15 399.85 L287.93 398.10 L286.10 397.52 L284.88 397.52 M294.64 408.58 L294.03 409.17 L294.64 409.75 L295.25 409.17 L294.64 408.58 M308.06 397.52 L301.96 409.75 M299.52 397.52 L308.06 397.52 M313.55 399.85 L314.77 399.26 L316.60 397.52 L316.60 409.75 M550.39 397.52 L548.56 398.10 L547.34 399.85 L546.73 402.76 L546.73 404.51 L547.34 407.42 L548.56 409.17 L550.39 409.75 L551.61 409.75 L553.44 409.17 L554.66 407.42 L555.27 404.51 L555.27 402.76 L554.66 399.85 L553.44 398.10 L551.61 397.52 L550.39 397.52 M560.15 408.58 L559.54 409.17 L560.15 409.75 L560.76 409.17 L560.15 408.58 M572.35 397.52 L566.25 397.52 L565.64 402.76 L566.25 402.18 L568.08 401.59 L569.91 401.59 L571.74 402.18 L572.96 403.34 L573.57 405.09 L573.57 406.25 L572.96 408.00 L571.74 409.17 L569.91 409.75 L568.08 409.75 L566.25 409.17 L565.64 408.58 L565.03 407.42 M580.89 397.52 L579.06 398.10 L577.84 399.85 L577.23 402.76 L577.23 404.51 L577.84 407.42 L579.06 409.17 L580.89 409.75 L582.11 409.75 L583.94 409.17 L585.16 407.42 L585.77 404.51 L585.77 402.76 L585.16 399.85 L583.94 398.10 L582.11 397.52 L580.89 397.52 M599.80 399.26 L590.04 404.51 L599.80 409.75 M606.51 401.59 L602.85 413.83 M605.90 403.92 L605.29 406.84 L605.29 408.58 L606.51 409.75 L607.73 409.75 L608.95 409.17 L610.17 408.00 L611.39 405.67 M612.61 401.59 L611.39 405.67 L610.78 408.00 L610.78 409.17 L611.39 409.75 L612.61 409.75 L613.83 408.58 L614.44 407.42 M627.25 396.93 L618.28 401.01 L627.25 405.09 M618.71 406.84 L627.25 406.84 M618.71 409.52 L627.25 409.52 M635.18 397.52 L633.35 398.10 L632.13 399.85 L631.52 402.76 L631.52 404.51 L632.13 407.42 L633.35 409.17 L635.18 409.75 L636.40 409.75 L638.23 409.17 L639.45 407.42 L640.06 404.51 L640.06 402.76 L639.45 399.85 L638.23 398.10 L636.40 397.52 L635.18 397.52 M644.94 408.58 L644.33 409.17 L644.94 409.75 L645.55 409.17 L644.94 408.58 M657.75 399.26 L657.14 398.10 L655.31 397.52 L654.09 397.52 L652.26 398.10 L651.04 399.85 L650.43 402.76 L650.43 405.67 L651.04 408.00 L652.26 409.17 L654.09 409.75 L654.70 409.75 L656.53 409.17 L657.75 408.00 L658.36 406.25 L658.36 405.67 L657.75 403.92 L656.53 402.76 L654.70 402.18 L654.09 402.18 L652.26 402.76 L651.04 403.92 L650.43 405.67 M663.85 399.85 L665.07 399.26 L666.90 397.52 L666.90 409.75 M200.09 521.67 L198.26 522.25 L197.04 524.00 L196.43 526.91 L196.43 528.66 L197.04 531.57 L198.26 533.32 L200.09 533.90 L201.31 533.90 L203.14 533.32 L204.36 531.57 L204.97 528.66 L204.97 526.91 L204.36 524.00 L203.14 522.25 L201.31 521.67 L200.09 521.67 M209.85 532.73 L209.24 533.32 L209.85 533.90 L210.46 533.32 L209.85 532.73 M215.95 521.67 L222.66 521.67 L219.00 526.33 L220.83 526.33 L222.05 526.91 L222.66 527.49 L223.27 529.24 L223.27 530.40 L222.66 532.15 L221.44 533.32 L219.61 533.90 L217.78 533.90 L215.95 533.32 L215.34 532.73 L214.73 531.57 M234.86 523.41 L234.25 522.25 L232.42 521.67 L231.20 521.67 L229.37 522.25 L228.15 524.00 L227.54 526.91 L227.54 529.82 L228.15 532.15 L229.37 533.32 L231.20 533.90 L231.81 533.90 L233.64 533.32 L234.86 532.15 L235.47 530.40 L235.47 529.82 L234.86 528.07 L233.64 526.91 L231.81 526.33 L231.20 526.33 L229.37 526.91 L228.15 528.07 L227.54 529.82 M249.50 523.41 L239.74 528.66 L249.50 533.90 M256.21 525.74 L252.55 537.98 M255.60 528.07 L254.99 530.99 L254.99 532.73 L256.21 533.90 L257.43 533.90 L258.65 533.32 L259.87 532.15 L261.09 529.82 M262.31 525.74 L261.09 529.82 L260.48 532.15 L260.48 533.32 L261.09 533.90 L262.31 533.90 L263.53 532.73 L264.14 531.57 M276.95 521.08 L267.98 525.16 L276.95 529.24 M268.41 530.99 L276.95 530.99 M268.41 533.67 L276.95 533.67 M284.88 521.67 L283.05 522.25 L281.83 524.00 L281.22 526.91 L281.22 528.66 L281.83 531.57 L283.05 533.32 L284.88 533.90 L286.10 533.90 L287.93 533.32 L289.15 531.57 L289.76 528.66 L289.76 526.91 L289.15 524.00 L287.93 522.25 L286.10 521.67 L284.88 521.67 M294.64 532.73 L294.03 533.32 L294.64 533.90 L295.25 533.32 L294.64 532.73 M306.84 521.67 L300.74 521.67 L300.13 526.91 L300.74 526.33 L302.57 525.74 L304.40 525.74 L306.23 526.33 L307.45 527.49 L308.06 529.24 L308.06 530.40 L307.45 532.15 L306.23 533.32 L304.40 533.90 L302.57 533.90 L300.74 533.32 L300.13 532.73 L299.52 531.57 M315.38 521.67 L313.55 522.25 L312.33 524.00 L311.72 526.91 L311.72 528.66 L312.33 531.57 L313.55 533.32 L315.38 533.90 L316.60 533.90 L318.43 533.32 L319.65 531.57 L320.26 528.66 L320.26 526.91 L319.65 524.00 L318.43 522.25 L316.60 521.67 L315.38 521.67 M550.39 521.67 L548.56 522.25 L547.34 524.00 L546.73 526.91 L546.73 528.66 L547.34 531.57 L548.56 533.32 L550.39 533.90 L551.61 533.90 L553.44 533.32 L554.66 531.57 L555.27 528.66 L555.27 526.91 L554.66 524.00 L553.44 522.25 L551.61 521.67 L550.39 521.67 M560.15 532.73 L559.54 533.32 L560.15 533.90 L560.76 533.32 L560.15 532.73 M566.86 524.00 L568.08 523.41 L569.91 521.67 L569.91 533.90 M580.89 521.67 L579.06 522.25 L577.84 524.00 L577.23 526.91 L577.23 528.66 L577.84 531.57 L579.06 533.32 L580.89 533.90 L582.11 533.90 L583.94 533.32 L585.16 531.57 L585.77 528.66 L585.77 526.91 L585.16 524.00 L583.94 522.25 L582.11 521.67 L580.89 521.67 M599.80 521.08 L590.83 525.16 L599.80 529.24 M591.26 530.99 L599.80 530.99 M591.26 533.67 L599.80 533.67 M606.51 525.74 L602.85 537.98 M605.90 528.07 L605.29 530.99 L605.29 532.73 L606.51 533.90 L607.73 533.90 L608.95 533.32 L610.17 532.15 L611.39 529.82 M612.61 525.74 L611.39 529.82 L610.78 532.15 L610.78 533.32 L611.39 533.90 L612.61 533.90 L613.83 532.73 L614.44 531.57 M627.25 521.08 L618.28 525.16 L627.25 529.24 M618.71 530.99 L627.25 530.99 M618.71 533.67 L627.25 533.67 M635.18 521.67 L633.35 522.25 L632.13 524.00 L631.52 526.91 L631.52 528.66 L632.13 531.57 L633.35 533.32 L635.18 533.90 L636.40 533.90 L638.23 533.32 L639.45 531.57 L640.06 528.66 L640.06 526.91 L639.45 524.00 L638.23 522.25 L636.40 521.67 L635.18 521.67 M644.94 532.73 L644.33 533.32 L644.94 533.90 L645.55 533.32 L644.94 532.73 M651.04 521.67 L657.75 521.67 L654.09 526.33 L655.92 526.33 L657.14 526.91 L657.75 527.49 L658.36 529.24 L658.36 530.40 L657.75 532.15 L656.53 533.32 L654.70 533.90 L652.87 533.90 L651.04 533.32 L650.43 532.73 L649.82 531.57 M669.95 523.41 L669.34 522.25 L667.51 521.67 L666.29 521.67 L664.46 522.25 L663.24 524.00 L662.63 526.91 L662.63 529.82 L663.24 532.15 L664.46 533.32 L666.29 533.90 L666.90 533.90 L668.73 533.32 L669.95 532.15 L670.56 530.40 L670.56 529.82 L669.95 528.07 L668.73 526.91 L666.90 526.33 L666.29 526.33 L664.46 526.91 L663.24 528.07 L662.63 529.82" stroke="#0a0a0a" stroke-width="1.25" fill="none" stroke-linecap="round" stroke-linejoin="round"/>
</svg>
</body></html>
